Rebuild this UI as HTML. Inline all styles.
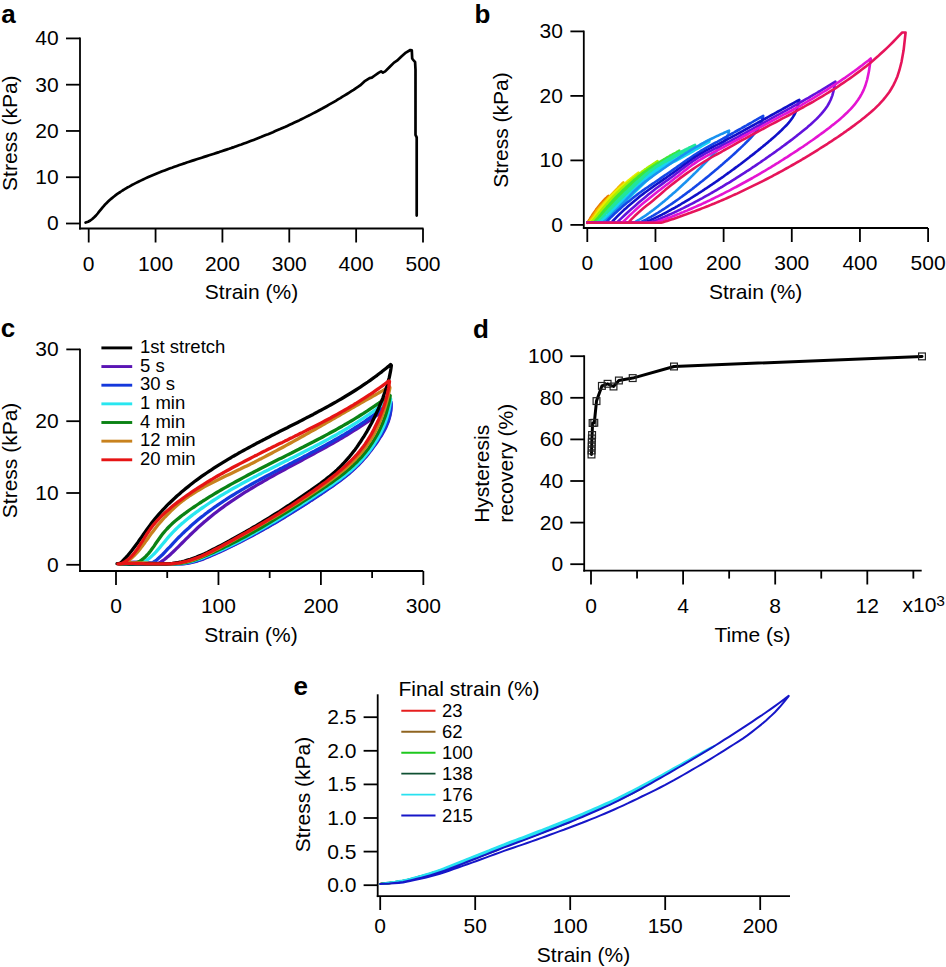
<!DOCTYPE html>
<html><head><meta charset="utf-8"><style>
html,body{margin:0;padding:0;background:#fff;}
svg{display:block;}
text{font-family:"Liberation Sans", sans-serif;}
</style></head><body>
<svg width="946" height="967" viewBox="0 0 946 967">
<rect width="946" height="967" fill="#fff"/>
<line x1="80" y1="37.4" x2="80" y2="229.4" stroke="#000" stroke-width="1.8"/>
<line x1="79.1" y1="228.5" x2="423.5" y2="228.5" stroke="#000" stroke-width="1.8"/>
<line x1="66" y1="223.5" x2="80" y2="223.5" stroke="#000" stroke-width="1.8"/>
<text x="58.6" y="230.4" font-size="21" text-anchor="end" font-weight="normal" fill="#000">0</text>
<line x1="66" y1="177.23" x2="80" y2="177.23" stroke="#000" stroke-width="1.8"/>
<text x="58.6" y="184.13" font-size="21" text-anchor="end" font-weight="normal" fill="#000">10</text>
<line x1="66" y1="130.96" x2="80" y2="130.96" stroke="#000" stroke-width="1.8"/>
<text x="58.6" y="137.86" font-size="21" text-anchor="end" font-weight="normal" fill="#000">20</text>
<line x1="66" y1="84.69" x2="80" y2="84.69" stroke="#000" stroke-width="1.8"/>
<text x="58.6" y="91.59" font-size="21" text-anchor="end" font-weight="normal" fill="#000">30</text>
<line x1="66" y1="38.42" x2="80" y2="38.42" stroke="#000" stroke-width="1.8"/>
<text x="58.6" y="45.32" font-size="21" text-anchor="end" font-weight="normal" fill="#000">40</text>
<line x1="88.7" y1="228.5" x2="88.7" y2="242.5" stroke="#000" stroke-width="1.8"/>
<text x="88.7" y="270.5" font-size="21" text-anchor="middle" font-weight="normal" fill="#000">0</text>
<line x1="155.56" y1="228.5" x2="155.56" y2="242.5" stroke="#000" stroke-width="1.8"/>
<text x="155.56" y="270.5" font-size="21" text-anchor="middle" font-weight="normal" fill="#000">100</text>
<line x1="222.42" y1="228.5" x2="222.42" y2="242.5" stroke="#000" stroke-width="1.8"/>
<text x="222.42" y="270.5" font-size="21" text-anchor="middle" font-weight="normal" fill="#000">200</text>
<line x1="289.28" y1="228.5" x2="289.28" y2="242.5" stroke="#000" stroke-width="1.8"/>
<text x="289.28" y="270.5" font-size="21" text-anchor="middle" font-weight="normal" fill="#000">300</text>
<line x1="356.14" y1="228.5" x2="356.14" y2="242.5" stroke="#000" stroke-width="1.8"/>
<text x="356.14" y="270.5" font-size="21" text-anchor="middle" font-weight="normal" fill="#000">400</text>
<line x1="423" y1="228.5" x2="423" y2="242.5" stroke="#000" stroke-width="1.8"/>
<text x="423" y="270.5" font-size="21" text-anchor="middle" font-weight="normal" fill="#000">500</text>
<text x="251.5" y="299.2" font-size="21" text-anchor="middle" font-weight="normal" fill="#000">Strain (%)</text>
<text x="17.4" y="133.2" font-size="21" text-anchor="middle" font-weight="normal" fill="#000" transform="rotate(-90 17.4 133.2)">Stress (kPa)</text>
<text x="1.3" y="22.8" font-size="26" text-anchor="start" font-weight="bold" fill="#000">a</text>
<path d="M85.6,222.5 L88.1,221.7 L90.3,220.5 L92.3,219.0 L94.2,217.3 L96.0,215.5 L97.7,213.5 L99.3,211.4 L101.0,209.3 L102.6,207.3 L104.4,205.3 L106.2,203.4 L108.1,201.6 L110.0,199.8 L112.0,198.1 L114.0,196.5 L116.0,194.9 L118.1,193.4 L120.3,192.0 L122.5,190.5 L124.7,189.2 L126.9,187.8 L129.2,186.6 L131.4,185.3 L133.7,184.1 L136.1,182.9 L138.4,181.7 L140.7,180.6 L143.1,179.5 L145.4,178.4 L147.8,177.3 L150.2,176.2 L152.6,175.2 L155.0,174.2 L157.4,173.2 L159.8,172.3 L162.2,171.3 L164.6,170.4 L167.1,169.4 L169.5,168.5 L171.9,167.7 L174.4,166.8 L176.9,165.9 L179.3,165.0 L181.8,164.2 L184.3,163.4 L186.7,162.5 L189.2,161.7 L191.7,160.9 L194.2,160.1 L196.7,159.3 L199.2,158.5 L201.7,157.7 L204.1,156.9 L206.6,156.1 L209.1,155.3 L211.6,154.5 L214.1,153.7 L216.6,152.9 L219.1,152.1 L221.6,151.2 L224.1,150.4 L226.5,149.6 L229.0,148.8 L231.5,147.9 L234.0,147.1 L236.4,146.2 L238.9,145.3 L241.4,144.5 L243.8,143.6 L246.3,142.7 L248.7,141.8 L251.2,140.8 L253.6,139.9 L256.0,139.0 L258.5,138.0 L260.9,137.1 L263.3,136.1 L265.7,135.1 L268.1,134.2 L270.5,133.2 L272.9,132.2 L275.3,131.1 L277.7,130.1 L280.1,129.1 L282.5,128.0 L284.9,127.0 L287.3,125.9 L289.6,124.8 L292.0,123.7 L294.4,122.6 L296.7,121.5 L299.1,120.4 L301.4,119.2 L303.7,118.1 L306.1,116.9 L308.4,115.8 L310.7,114.6 L313.0,113.4 L315.3,112.2 L317.6,111.0 L319.9,109.7 L322.2,108.5 L324.5,107.2 L326.8,106.0 L329.0,104.7 L331.3,103.4 L333.6,102.1 L335.8,100.8 L338.0,99.4 L340.3,98.1 L342.5,96.7 L344.7,95.4 L347.0,94.0 L349.2,92.6 L351.4,91.2 L353.6,89.8 L355.7,88.3 L357.9,86.9 L360.1,85.4 L364.4,81.4 L369.6,78.1 L371.8,77.7 L374.8,75.5 L378.5,72.9 L381.1,71.4 L382.9,72.6 L385.2,71.4 L389.6,67.0 L394.0,62.6 L397.0,60.7 L401.4,56.6 L405.9,52.6 L410.3,50.0 L411.8,50.4 L412.2,58.5 L413.3,60.0 L415.1,62.2 L415.5,69.6 L415.5,134.8 L416.7,137.3 L416.7,215.6" fill="none" stroke="#000" stroke-width="2.7" stroke-linejoin="round" stroke-linecap="round"/>
<line x1="583.8" y1="30.6" x2="583.8" y2="228.9" stroke="#000" stroke-width="1.8"/>
<line x1="582.9" y1="228" x2="928" y2="228" stroke="#000" stroke-width="1.8"/>
<line x1="570.4" y1="224.9" x2="583.8" y2="224.9" stroke="#000" stroke-width="1.8"/>
<text x="562.9" y="231.8" font-size="21" text-anchor="end" font-weight="normal" fill="#000">0</text>
<line x1="570.4" y1="160.4" x2="583.8" y2="160.4" stroke="#000" stroke-width="1.8"/>
<text x="562.9" y="167.3" font-size="21" text-anchor="end" font-weight="normal" fill="#000">10</text>
<line x1="570.4" y1="95.9" x2="583.8" y2="95.9" stroke="#000" stroke-width="1.8"/>
<text x="562.9" y="102.8" font-size="21" text-anchor="end" font-weight="normal" fill="#000">20</text>
<line x1="570.4" y1="31.4" x2="583.8" y2="31.4" stroke="#000" stroke-width="1.8"/>
<text x="562.9" y="38.3" font-size="21" text-anchor="end" font-weight="normal" fill="#000">30</text>
<line x1="587.3" y1="228" x2="587.3" y2="242" stroke="#000" stroke-width="1.8"/>
<text x="587.3" y="270.3" font-size="21" text-anchor="middle" font-weight="normal" fill="#000">0</text>
<line x1="655.46" y1="228" x2="655.46" y2="242" stroke="#000" stroke-width="1.8"/>
<text x="655.46" y="270.3" font-size="21" text-anchor="middle" font-weight="normal" fill="#000">100</text>
<line x1="723.62" y1="228" x2="723.62" y2="242" stroke="#000" stroke-width="1.8"/>
<text x="723.62" y="270.3" font-size="21" text-anchor="middle" font-weight="normal" fill="#000">200</text>
<line x1="791.78" y1="228" x2="791.78" y2="242" stroke="#000" stroke-width="1.8"/>
<text x="791.78" y="270.3" font-size="21" text-anchor="middle" font-weight="normal" fill="#000">300</text>
<line x1="859.94" y1="228" x2="859.94" y2="242" stroke="#000" stroke-width="1.8"/>
<text x="859.94" y="270.3" font-size="21" text-anchor="middle" font-weight="normal" fill="#000">400</text>
<line x1="928.1" y1="228" x2="928.1" y2="242" stroke="#000" stroke-width="1.8"/>
<text x="928.1" y="270.3" font-size="21" text-anchor="middle" font-weight="normal" fill="#000">500</text>
<text x="755.7" y="299.3" font-size="21" text-anchor="middle" font-weight="normal" fill="#000">Strain (%)</text>
<text x="507.9" y="130" font-size="21" text-anchor="middle" font-weight="normal" fill="#000" transform="rotate(-90 507.9 130)">Stress (kPa)</text>
<text x="474.6" y="22.9" font-size="26" text-anchor="start" font-weight="bold" fill="#000">b</text>
<path d="M587.3,222.8 L587.3,222.8 L587.5,222.5 L587.8,222.1 L588.0,221.8 L588.2,221.4 L588.5,221.0 L588.7,220.7 L589.0,220.3 L589.2,220.0 L589.4,219.6 L589.7,219.2 L589.9,218.9 L590.1,218.5 L590.4,218.1 L590.6,217.8 L590.9,217.4 L591.1,217.0 L591.3,216.6 L591.6,216.3 L591.8,215.9 L592.0,215.5 L592.3,215.1 L592.5,214.8 L592.8,214.4 L593.0,214.0 L593.2,213.6 L593.5,213.3 L593.7,212.9 L593.9,212.6 L594.2,212.2 L594.4,211.8 L594.7,211.5 L594.9,211.2 L595.1,210.8 L595.4,210.5 L595.6,210.2 L595.8,209.8 L596.1,209.5 L596.3,209.2 L596.6,208.9 L596.8,208.6 L597.0,208.3 L597.3,208.0 L597.5,207.7 L597.7,207.4 L598.0,207.1 L598.2,206.8 L598.5,206.5 L598.7,206.2 L598.9,205.9 L599.2,205.6 L599.4,205.3 L599.6,205.0 L599.9,204.8 L600.1,204.5 L600.4,204.2 L600.6,203.9 L600.8,203.6 L601.1,203.4 L601.3,203.1 L601.5,202.8 L601.8,202.5 L602.0,202.3 L602.3,202.0 L602.5,201.7 L602.7,201.5 L603.0,201.2 L603.2,200.9 L603.4,200.7 L603.7,200.4 L603.9,200.2 L604.2,199.9 L604.4,199.7 L604.6,199.4 L604.9,199.2 L605.1,199.0 L605.3,198.7 L605.6,198.5 L605.8,198.2 L606.1,198.0 L606.3,197.8 L606.5,197.6 L606.8,197.3 L607.0,197.1 L607.2,196.9 L607.5,196.7 L607.7,196.5 L608.0,196.3 L608.2,196.1 L608.4,195.9 L608.4,199.0 L608.1,199.3 L607.8,199.7 L607.5,200.0 L607.2,200.3 L606.9,200.6 L606.6,200.9 L606.3,201.3 L606.0,201.6 L605.7,201.9 L605.4,202.3 L605.1,202.6 L604.8,202.9 L604.5,203.3 L604.2,203.6 L603.9,204.0 L603.6,204.4 L603.3,204.7 L603.0,205.1 L602.7,205.4 L602.4,205.8 L602.1,206.2 L601.8,206.6 L601.5,206.9 L601.2,207.3 L600.9,207.7 L600.6,208.1 L600.3,208.5 L600.0,208.8 L599.7,209.2 L599.4,209.6 L599.1,210.0 L598.8,210.4 L598.5,210.8 L598.2,211.3 L597.9,211.7 L597.6,212.2 L597.3,212.6 L597.0,213.1 L596.7,213.5 L596.4,214.0 L596.1,214.5 L595.8,214.9 L595.5,215.4 L595.2,215.9 L594.9,216.4 L594.6,216.8 L594.3,217.3 L594.0,217.8 L593.7,218.3 L593.4,218.7 L593.1,219.2 L592.8,219.7 L592.5,220.1 L592.2,220.6 L591.9,221.0 L591.6,221.5 L591.3,221.9 L591.0,222.4 L590.7,222.8 L587.3,222.8" fill="none" stroke="#e87a00" stroke-width="2.6" stroke-linejoin="round" stroke-linecap="round"/>
<path d="M587.3,222.8 L588.0,222.8 L588.4,222.4 L588.8,221.9 L589.2,221.4 L589.6,220.9 L590.0,220.4 L590.4,219.9 L590.8,219.3 L591.2,218.8 L591.6,218.3 L592.0,217.7 L592.4,217.1 L592.8,216.6 L593.2,216.0 L593.6,215.4 L594.0,214.8 L594.4,214.3 L594.8,213.7 L595.1,213.1 L595.5,212.5 L595.9,212.0 L596.3,211.4 L596.7,210.9 L597.1,210.3 L597.5,209.8 L597.9,209.3 L598.3,208.8 L598.7,208.4 L599.1,207.9 L599.5,207.4 L599.9,207.0 L600.3,206.5 L600.7,206.0 L601.1,205.6 L601.5,205.2 L601.9,204.7 L602.3,204.3 L602.7,203.8 L603.1,203.4 L603.5,203.0 L603.9,202.6 L604.3,202.2 L604.7,201.7 L605.1,201.3 L605.5,200.9 L605.9,200.5 L606.3,200.1 L606.7,199.6 L607.1,199.2 L607.5,198.8 L607.9,198.4 L608.3,198.0 L608.7,197.5 L609.1,197.1 L609.5,196.7 L609.9,196.3 L610.3,195.8 L610.7,195.4 L611.1,195.0 L611.5,194.6 L611.9,194.2 L612.3,193.7 L612.7,193.3 L613.1,192.9 L613.5,192.5 L613.9,192.1 L614.3,191.7 L614.7,191.2 L615.1,190.8 L615.5,190.4 L615.9,190.0 L616.3,189.6 L616.7,189.2 L617.1,188.8 L617.5,188.4 L617.8,188.0 L618.2,187.5 L618.6,187.1 L619.0,186.7 L619.4,186.3 L619.8,185.9 L620.2,185.5 L620.6,185.1 L621.0,184.7 L621.4,184.3 L621.8,183.9 L622.2,183.5 L622.6,183.1 L623.0,182.7 L623.4,182.3 L623.4,185.7 L622.9,186.3 L622.3,186.9 L621.8,187.4 L621.3,188.0 L620.7,188.5 L620.2,189.1 L619.6,189.6 L619.1,190.2 L618.5,190.8 L618.0,191.3 L617.5,191.9 L616.9,192.5 L616.4,193.0 L615.8,193.6 L615.3,194.2 L614.7,194.7 L614.2,195.3 L613.7,195.9 L613.1,196.5 L612.6,197.0 L612.0,197.6 L611.5,198.2 L610.9,198.8 L610.4,199.3 L609.9,199.9 L609.3,200.5 L608.8,201.0 L608.2,201.6 L607.7,202.2 L607.1,202.8 L606.6,203.3 L606.0,203.9 L605.5,204.5 L605.0,205.1 L604.4,205.7 L603.9,206.3 L603.3,207.0 L602.8,207.6 L602.2,208.2 L601.7,208.9 L601.2,209.6 L600.6,210.3 L600.1,211.0 L599.5,211.7 L599.0,212.5 L598.4,213.3 L597.9,214.0 L597.4,214.8 L596.8,215.6 L596.3,216.4 L595.7,217.2 L595.2,218.0 L594.6,218.7 L594.1,219.4 L593.6,220.1 L593.0,220.8 L592.5,221.5 L591.9,222.2 L591.4,222.8 L587.3,222.8" fill="none" stroke="#f4b400" stroke-width="2.6" stroke-linejoin="round" stroke-linecap="round"/>
<path d="M587.3,222.8 L589.0,222.8 L589.6,222.3 L590.1,221.8 L590.7,221.2 L591.2,220.7 L591.8,220.1 L592.3,219.4 L592.9,218.8 L593.4,218.0 L594.0,217.3 L594.6,216.5 L595.1,215.7 L595.7,214.9 L596.2,214.1 L596.8,213.3 L597.3,212.5 L597.9,211.7 L598.4,210.9 L599.0,210.2 L599.6,209.4 L600.1,208.7 L600.7,208.0 L601.2,207.3 L601.8,206.6 L602.3,206.0 L602.9,205.3 L603.4,204.6 L604.0,203.9 L604.6,203.2 L605.1,202.6 L605.7,201.9 L606.2,201.3 L606.8,200.6 L607.3,200.0 L607.9,199.4 L608.4,198.8 L609.0,198.2 L609.5,197.6 L610.1,197.0 L610.7,196.4 L611.2,195.8 L611.8,195.3 L612.3,194.7 L612.9,194.2 L613.4,193.6 L614.0,193.1 L614.5,192.6 L615.1,192.0 L615.7,191.5 L616.2,191.0 L616.8,190.5 L617.3,190.0 L617.9,189.5 L618.4,189.1 L619.0,188.6 L619.5,188.1 L620.1,187.6 L620.7,187.1 L621.2,186.7 L621.8,186.2 L622.3,185.7 L622.9,185.2 L623.4,184.8 L624.0,184.3 L624.5,183.8 L625.1,183.4 L625.6,182.9 L626.2,182.4 L626.8,182.0 L627.3,181.5 L627.9,181.0 L628.4,180.6 L629.0,180.1 L629.5,179.7 L630.1,179.2 L630.6,178.8 L631.2,178.3 L631.8,177.9 L632.3,177.4 L632.9,177.0 L633.4,176.5 L634.0,176.1 L634.5,175.7 L635.1,175.2 L635.6,174.8 L636.2,174.4 L636.8,173.9 L637.3,173.5 L637.9,173.1 L638.4,172.7 L638.4,175.3 L637.6,175.9 L636.9,176.5 L636.1,177.1 L635.3,177.7 L634.5,178.4 L633.7,179.0 L633.0,179.6 L632.2,180.3 L631.4,180.9 L630.6,181.6 L629.8,182.2 L629.1,182.9 L628.3,183.5 L627.5,184.2 L626.7,184.9 L625.9,185.5 L625.2,186.2 L624.4,186.9 L623.6,187.5 L622.8,188.2 L622.0,188.9 L621.3,189.6 L620.5,190.3 L619.7,191.0 L618.9,191.7 L618.1,192.4 L617.4,193.1 L616.6,193.9 L615.8,194.6 L615.0,195.4 L614.2,196.2 L613.5,197.0 L612.7,197.8 L611.9,198.7 L611.1,199.6 L610.3,200.4 L609.6,201.3 L608.8,202.3 L608.0,203.2 L607.2,204.1 L606.4,205.1 L605.7,206.0 L604.9,207.0 L604.1,208.0 L603.3,209.0 L602.5,210.0 L601.8,211.0 L601.0,212.1 L600.2,213.3 L599.4,214.4 L598.7,215.5 L597.9,216.7 L597.1,217.7 L596.3,218.7 L595.5,219.7 L594.8,220.5 L594.0,221.4 L593.2,222.1 L592.4,222.8 L587.3,222.8" fill="none" stroke="#ecec00" stroke-width="2.6" stroke-linejoin="round" stroke-linecap="round"/>
<path d="M587.3,222.8 L590.7,222.8 L591.5,222.0 L592.2,221.2 L593.0,220.4 L593.7,219.6 L594.5,218.7 L595.2,217.8 L596.0,216.9 L596.7,216.0 L597.5,215.0 L598.2,214.1 L599.0,213.2 L599.7,212.2 L600.5,211.3 L601.2,210.4 L602.0,209.5 L602.7,208.6 L603.5,207.7 L604.2,206.8 L605.0,205.9 L605.7,205.1 L606.5,204.2 L607.2,203.3 L608.0,202.4 L608.7,201.6 L609.5,200.7 L610.2,199.9 L611.0,199.0 L611.7,198.2 L612.5,197.4 L613.2,196.6 L614.0,195.8 L614.7,195.1 L615.5,194.3 L616.2,193.6 L617.0,192.9 L617.7,192.1 L618.5,191.4 L619.2,190.7 L620.0,190.0 L620.7,189.3 L621.5,188.6 L622.2,187.9 L623.0,187.3 L623.7,186.6 L624.5,185.9 L625.2,185.3 L626.0,184.6 L626.7,184.0 L627.5,183.3 L628.2,182.7 L629.0,182.1 L629.7,181.4 L630.5,180.8 L631.2,180.2 L632.0,179.6 L632.7,179.0 L633.5,178.4 L634.2,177.8 L635.0,177.2 L635.7,176.6 L636.5,176.0 L637.2,175.4 L638.0,174.8 L638.7,174.3 L639.5,173.7 L640.2,173.1 L641.0,172.5 L641.7,172.0 L642.5,171.4 L643.2,170.9 L644.0,170.3 L644.7,169.7 L645.5,169.2 L646.2,168.7 L647.0,168.1 L647.7,167.6 L648.5,167.1 L649.2,166.5 L650.0,166.0 L650.8,165.5 L651.5,165.0 L652.3,164.5 L653.0,164.0 L653.8,163.5 L654.5,163.0 L655.3,162.5 L656.0,162.0 L656.8,161.5 L657.5,161.0 L657.5,163.2 L656.4,164.0 L655.4,164.7 L654.3,165.4 L653.2,166.1 L652.1,166.9 L651.1,167.7 L650.0,168.4 L648.9,169.2 L647.8,170.0 L646.8,170.8 L645.7,171.6 L644.6,172.4 L643.5,173.2 L642.5,174.0 L641.4,174.8 L640.3,175.7 L639.2,176.5 L638.2,177.4 L637.1,178.2 L636.0,179.1 L634.9,180.0 L633.9,180.8 L632.8,181.7 L631.7,182.6 L630.6,183.5 L629.6,184.5 L628.5,185.4 L627.4,186.3 L626.3,187.3 L625.3,188.3 L624.2,189.3 L623.1,190.2 L622.1,191.3 L621.0,192.3 L619.9,193.3 L618.8,194.4 L617.8,195.5 L616.7,196.6 L615.6,197.7 L614.5,198.9 L613.5,200.1 L612.4,201.3 L611.3,202.5 L610.2,203.8 L609.2,205.0 L608.1,206.3 L607.0,207.6 L605.9,208.8 L604.9,210.1 L603.8,211.4 L602.7,212.7 L601.6,214.1 L600.6,215.4 L599.5,216.8 L598.4,218.1 L597.3,219.3 L596.3,220.5 L595.2,221.7 L594.1,222.8 L587.3,222.8" fill="none" stroke="#a6f000" stroke-width="2.6" stroke-linejoin="round" stroke-linecap="round"/>
<path d="M587.3,222.8 L593.4,222.8 L594.4,221.8 L595.4,220.7 L596.3,219.7 L597.3,218.6 L598.3,217.5 L599.2,216.3 L600.2,215.2 L601.2,214.0 L602.1,212.8 L603.1,211.7 L604.0,210.5 L605.0,209.4 L606.0,208.3 L606.9,207.2 L607.9,206.1 L608.9,205.1 L609.8,204.0 L610.8,202.9 L611.8,201.8 L612.7,200.8 L613.7,199.7 L614.7,198.7 L615.6,197.7 L616.6,196.7 L617.6,195.7 L618.5,194.7 L619.5,193.8 L620.5,192.8 L621.4,191.9 L622.4,190.9 L623.3,190.0 L624.3,189.1 L625.3,188.2 L626.2,187.3 L627.2,186.4 L628.2,185.5 L629.1,184.6 L630.1,183.7 L631.1,182.9 L632.0,182.0 L633.0,181.2 L634.0,180.3 L634.9,179.5 L635.9,178.7 L636.9,177.9 L637.8,177.1 L638.8,176.3 L639.8,175.5 L640.7,174.8 L641.7,174.1 L642.6,173.3 L643.6,172.6 L644.6,171.9 L645.5,171.2 L646.5,170.5 L647.5,169.9 L648.4,169.2 L649.4,168.5 L650.4,167.9 L651.3,167.3 L652.3,166.6 L653.3,166.0 L654.2,165.4 L655.2,164.8 L656.2,164.2 L657.1,163.6 L658.1,163.0 L659.1,162.4 L660.0,161.8 L661.0,161.2 L661.9,160.6 L662.9,160.0 L663.9,159.4 L664.8,158.9 L665.8,158.3 L666.8,157.7 L667.7,157.1 L668.7,156.6 L669.7,156.0 L670.6,155.5 L671.6,154.9 L672.6,154.4 L673.5,153.8 L674.5,153.3 L675.5,152.8 L676.4,152.3 L677.4,151.7 L678.4,151.2 L679.3,150.7 L679.3,152.5 L677.9,153.3 L676.5,154.1 L675.1,154.9 L673.7,155.7 L672.3,156.5 L670.9,157.3 L669.5,158.1 L668.1,158.9 L666.7,159.8 L665.3,160.6 L663.9,161.5 L662.5,162.3 L661.1,163.2 L659.7,164.1 L658.3,164.9 L657.0,165.8 L655.6,166.7 L654.2,167.7 L652.8,168.6 L651.4,169.5 L650.0,170.5 L648.6,171.5 L647.2,172.5 L645.8,173.5 L644.4,174.6 L643.0,175.7 L641.6,176.8 L640.2,178.0 L638.8,179.1 L637.4,180.3 L636.0,181.5 L634.6,182.8 L633.2,184.0 L631.8,185.3 L630.4,186.6 L629.0,187.9 L627.6,189.2 L626.2,190.5 L624.8,191.9 L623.4,193.3 L622.0,194.6 L620.6,196.0 L619.2,197.5 L617.8,199.0 L616.4,200.5 L615.0,202.0 L613.6,203.6 L612.2,205.1 L610.8,206.7 L609.4,208.3 L608.0,209.9 L606.6,211.5 L605.2,213.2 L603.8,214.9 L602.4,216.6 L601.0,218.2 L599.6,219.8 L598.2,221.3 L596.8,222.8 L587.3,222.8" fill="none" stroke="#3ce63c" stroke-width="2.6" stroke-linejoin="round" stroke-linecap="round"/>
<path d="M587.3,222.8 L596.2,222.8 L597.3,221.9 L598.4,220.9 L599.5,219.8 L600.6,218.7 L601.7,217.6 L602.8,216.4 L603.9,215.2 L605.0,213.9 L606.2,212.7 L607.3,211.4 L608.4,210.2 L609.5,209.0 L610.6,207.8 L611.7,206.6 L612.8,205.5 L613.9,204.3 L615.0,203.1 L616.1,201.9 L617.3,200.8 L618.4,199.6 L619.5,198.5 L620.6,197.4 L621.7,196.2 L622.8,195.2 L623.9,194.1 L625.0,193.0 L626.1,191.9 L627.3,190.9 L628.4,189.8 L629.5,188.7 L630.6,187.7 L631.7,186.6 L632.8,185.6 L633.9,184.5 L635.0,183.5 L636.1,182.5 L637.2,181.5 L638.4,180.5 L639.5,179.5 L640.6,178.6 L641.7,177.6 L642.8,176.7 L643.9,175.7 L645.0,174.8 L646.1,173.9 L647.2,173.1 L648.4,172.2 L649.5,171.4 L650.6,170.6 L651.7,169.8 L652.8,169.0 L653.9,168.2 L655.0,167.4 L656.1,166.7 L657.2,165.9 L658.3,165.2 L659.5,164.5 L660.6,163.7 L661.7,163.0 L662.8,162.3 L663.9,161.6 L665.0,161.0 L666.1,160.3 L667.2,159.6 L668.3,159.0 L669.5,158.3 L670.6,157.7 L671.7,157.0 L672.8,156.4 L673.9,155.7 L675.0,155.1 L676.1,154.5 L677.2,153.9 L678.3,153.3 L679.4,152.7 L680.6,152.1 L681.7,151.5 L682.8,150.9 L683.9,150.3 L685.0,149.7 L686.1,149.2 L687.2,148.6 L688.3,148.1 L689.4,147.5 L690.6,147.0 L691.7,146.5 L692.8,145.9 L693.9,145.4 L695.0,144.9 L695.0,146.5 L693.4,147.3 L691.8,148.1 L690.1,148.9 L688.5,149.7 L686.9,150.5 L685.3,151.4 L683.7,152.2 L682.1,153.1 L680.4,154.0 L678.8,154.9 L677.2,155.8 L675.6,156.7 L674.0,157.7 L672.3,158.6 L670.7,159.6 L669.1,160.5 L667.5,161.5 L665.9,162.5 L664.3,163.6 L662.6,164.6 L661.0,165.7 L659.4,166.8 L657.8,167.9 L656.2,169.0 L654.6,170.2 L652.9,171.3 L651.3,172.6 L649.7,173.8 L648.1,175.1 L646.5,176.4 L644.9,177.8 L643.2,179.2 L641.6,180.6 L640.0,182.1 L638.4,183.6 L636.8,185.1 L635.2,186.6 L633.5,188.1 L631.9,189.7 L630.3,191.2 L628.7,192.8 L627.1,194.3 L625.4,195.9 L623.8,197.5 L622.2,199.2 L620.6,200.8 L619.0,202.5 L617.4,204.2 L615.7,206.0 L614.1,207.7 L612.5,209.4 L610.9,211.2 L609.3,213.0 L607.7,214.8 L606.0,216.6 L604.4,218.3 L602.8,219.9 L601.2,221.4 L599.6,222.8 L587.3,222.8" fill="none" stroke="#22e69a" stroke-width="2.6" stroke-linejoin="round" stroke-linecap="round"/>
<path d="M587.3,222.8 L599.2,222.8 L600.5,221.8 L601.7,220.8 L602.9,219.7 L604.2,218.6 L605.4,217.5 L606.6,216.3 L607.9,215.1 L609.1,213.9 L610.4,212.6 L611.6,211.4 L612.8,210.2 L614.1,209.0 L615.3,207.8 L616.5,206.6 L617.8,205.3 L619.0,204.1 L620.3,202.9 L621.5,201.7 L622.7,200.5 L624.0,199.3 L625.2,198.1 L626.4,196.9 L627.7,195.7 L628.9,194.6 L630.1,193.4 L631.4,192.2 L632.6,191.0 L633.9,189.8 L635.1,188.6 L636.3,187.4 L637.6,186.2 L638.8,185.0 L640.0,183.8 L641.3,182.7 L642.5,181.5 L643.8,180.4 L645.0,179.2 L646.2,178.1 L647.5,177.0 L648.7,176.0 L649.9,174.9 L651.2,173.9 L652.4,173.0 L653.6,172.0 L654.9,171.1 L656.1,170.3 L657.4,169.4 L658.6,168.6 L659.8,167.8 L661.1,167.1 L662.3,166.3 L663.5,165.6 L664.8,164.9 L666.0,164.2 L667.3,163.6 L668.5,162.9 L669.7,162.2 L671.0,161.6 L672.2,160.9 L673.4,160.3 L674.7,159.6 L675.9,159.0 L677.1,158.3 L678.4,157.7 L679.6,157.0 L680.9,156.3 L682.1,155.6 L683.3,154.9 L684.6,154.2 L685.8,153.5 L687.0,152.8 L688.3,152.0 L689.5,151.3 L690.8,150.6 L692.0,149.9 L693.2,149.2 L694.5,148.5 L695.7,147.7 L696.9,147.0 L698.2,146.3 L699.4,145.6 L700.6,144.8 L701.9,144.1 L703.1,143.4 L704.4,142.7 L705.6,141.9 L706.8,141.2 L708.1,140.5 L709.3,139.8 L709.3,141.8 L707.5,142.8 L705.7,143.9 L703.9,144.9 L702.1,146.0 L700.3,147.1 L698.5,148.1 L696.7,149.2 L694.8,150.2 L693.0,151.3 L691.2,152.3 L689.4,153.3 L687.6,154.4 L685.8,155.4 L684.0,156.4 L682.2,157.4 L680.4,158.4 L678.6,159.4 L676.8,160.3 L675.0,161.3 L673.1,162.2 L671.3,163.2 L669.5,164.2 L667.7,165.2 L665.9,166.2 L664.1,167.3 L662.3,168.4 L660.5,169.6 L658.7,170.8 L656.9,172.2 L655.1,173.5 L653.3,175.0 L651.5,176.5 L649.6,178.1 L647.8,179.7 L646.0,181.4 L644.2,183.1 L642.4,184.8 L640.6,186.6 L638.8,188.3 L637.0,190.1 L635.2,191.8 L633.4,193.6 L631.6,195.3 L629.8,197.0 L627.9,198.7 L626.1,200.5 L624.3,202.2 L622.5,204.0 L620.7,205.8 L618.9,207.6 L617.1,209.3 L615.3,211.1 L613.5,212.9 L611.7,214.7 L609.9,216.5 L608.1,218.2 L606.3,219.8 L604.4,221.4 L602.6,222.8 L587.3,222.8" fill="none" stroke="#18d4f2" stroke-width="2.6" stroke-linejoin="round" stroke-linecap="round"/>
<path d="M587.3,222.8 L602.3,222.8 L603.7,221.8 L605.1,220.7 L606.6,219.5 L608.0,218.3 L609.4,217.0 L610.8,215.6 L612.3,214.1 L613.7,212.7 L615.1,211.2 L616.5,209.8 L618.0,208.3 L619.4,206.9 L620.8,205.4 L622.2,203.9 L623.7,202.4 L625.1,200.9 L626.5,199.3 L627.9,197.8 L629.4,196.3 L630.8,194.8 L632.2,193.4 L633.6,191.9 L635.1,190.5 L636.5,189.2 L637.9,187.9 L639.3,186.6 L640.8,185.4 L642.2,184.2 L643.6,183.0 L645.0,181.9 L646.5,180.8 L647.9,179.7 L649.3,178.6 L650.7,177.6 L652.2,176.6 L653.6,175.5 L655.0,174.5 L656.4,173.5 L657.8,172.5 L659.3,171.5 L660.7,170.5 L662.1,169.5 L663.5,168.5 L665.0,167.5 L666.4,166.5 L667.8,165.5 L669.2,164.5 L670.7,163.5 L672.1,162.5 L673.5,161.5 L674.9,160.5 L676.4,159.6 L677.8,158.6 L679.2,157.6 L680.6,156.7 L682.1,155.7 L683.5,154.8 L684.9,153.8 L686.3,152.9 L687.8,152.0 L689.2,151.1 L690.6,150.2 L692.0,149.4 L693.5,148.5 L694.9,147.7 L696.3,146.9 L697.7,146.1 L699.2,145.3 L700.6,144.5 L702.0,143.7 L703.4,143.0 L704.9,142.2 L706.3,141.4 L707.7,140.7 L709.1,140.0 L710.6,139.2 L712.0,138.5 L713.4,137.8 L714.8,137.1 L716.3,136.4 L717.7,135.8 L719.1,135.1 L720.5,134.4 L722.0,133.8 L723.4,133.2 L724.8,132.5 L726.2,131.9 L727.6,131.3 L729.1,130.7 L729.1,130.7 L728.3,133.6 L727.5,135.7 L726.6,137.4 L725.8,138.8 L725.0,140.1 L724.2,141.3 L723.4,142.4 L722.6,143.5 L721.8,144.5 L721.0,145.5 L720.2,146.5 L719.4,147.5 L718.6,148.4 L717.8,149.3 L717.0,150.2 L716.2,151.2 L715.3,152.0 L714.5,152.9 L713.7,153.8 L712.9,154.7 L712.1,155.6 L711.3,156.4 L710.5,157.3 L709.7,158.1 L708.9,159.0 L708.1,159.8 L707.3,160.7 L706.5,161.5 L705.7,162.4 L704.8,163.2 L704.0,164.0 L703.2,164.8 L702.4,165.7 L701.6,166.5 L700.8,167.3 L700.0,168.1 L699.2,168.9 L698.4,169.7 L697.6,170.5 L696.8,171.3 L696.0,172.1 L695.2,172.9 L694.3,173.7 L693.5,174.5 L692.7,175.3 L691.9,176.1 L691.1,176.9 L690.3,177.7 L689.5,178.4 L688.7,179.2 L687.9,180.0 L687.1,180.7 L686.3,181.5 L685.5,182.3 L684.7,183.0 L683.8,183.8 L683.0,184.5 L682.2,185.3 L681.4,186.0 L680.6,186.8 L679.8,187.5 L679.0,188.2 L678.2,189.0 L677.4,189.7 L676.6,190.4 L675.8,191.2 L675.0,191.9 L674.2,192.6 L673.3,193.3 L672.5,194.0 L671.7,194.7 L670.9,195.4 L670.1,196.1 L669.3,196.8 L668.5,197.5 L667.7,198.2 L666.9,198.9 L666.1,199.6 L665.3,200.3 L664.5,201.0 L663.7,201.6 L662.8,202.3 L662.0,203.0 L661.2,203.6 L660.4,204.3 L659.6,204.9 L658.8,205.6 L658.0,206.2 L657.2,206.9 L656.4,207.5 L655.6,208.1 L654.8,208.7 L654.0,209.4 L653.2,210.0 L652.3,210.6 L651.5,211.2 L650.7,211.8 L649.9,212.4 L649.1,213.0 L648.3,213.5 L647.5,214.1 L646.7,214.7 L645.9,215.3 L645.1,215.8 L644.3,216.4 L643.5,216.9 L642.7,217.4 L641.9,218.0 L641.0,218.5 L640.2,219.0 L639.4,219.5 L638.6,220.0 L637.8,220.4 L637.0,220.9 L636.2,221.3 L635.4,221.8 L634.6,222.2 L633.8,222.5 L633.0,222.8 L587.3,222.8" fill="none" stroke="#1a92f0" stroke-width="2.6" stroke-linejoin="round" stroke-linecap="round"/>
<path d="M587.3,222.8 L605.7,222.8 L607.5,220.8 L609.2,219.0 L611.0,217.2 L612.8,215.5 L614.5,213.8 L616.3,212.2 L618.1,210.5 L619.9,209.0 L621.6,207.4 L623.4,205.8 L625.2,204.3 L626.9,202.8 L628.7,201.4 L630.5,199.9 L632.2,198.5 L634.0,197.1 L635.8,195.7 L637.5,194.4 L639.3,193.0 L641.1,191.7 L642.9,190.4 L644.6,189.2 L646.4,188.0 L648.2,186.8 L649.9,185.6 L651.7,184.4 L653.5,183.2 L655.2,182.0 L657.0,180.8 L658.8,179.6 L660.5,178.4 L662.3,177.1 L664.1,175.9 L665.9,174.7 L667.6,173.5 L669.4,172.3 L671.2,171.1 L672.9,169.8 L674.7,168.6 L676.5,167.4 L678.2,166.1 L680.0,164.9 L681.8,163.6 L683.5,162.4 L685.3,161.1 L687.1,159.9 L688.9,158.7 L690.6,157.5 L692.4,156.3 L694.2,155.1 L695.9,154.0 L697.7,152.9 L699.5,151.8 L701.2,150.7 L703.0,149.7 L704.8,148.6 L706.5,147.6 L708.3,146.6 L710.1,145.6 L711.8,144.7 L713.6,143.7 L715.4,142.7 L717.2,141.8 L718.9,140.8 L720.7,139.9 L722.5,138.9 L724.2,137.9 L726.0,137.0 L727.8,136.0 L729.5,135.0 L731.3,134.0 L733.1,133.0 L734.8,132.0 L736.6,131.0 L738.4,130.0 L740.2,129.0 L741.9,128.0 L743.7,127.0 L745.5,126.0 L747.2,125.0 L749.0,124.0 L750.8,123.0 L752.5,122.0 L754.3,120.9 L756.1,119.9 L757.8,118.9 L759.6,117.9 L761.4,116.9 L763.2,115.9 L763.2,115.9 L762.1,120.1 L761.1,123.1 L760.0,125.4 L759.0,127.3 L757.9,129.0 L756.9,130.5 L755.8,131.9 L754.8,133.2 L753.7,134.5 L752.7,135.7 L751.6,136.8 L750.6,138.0 L749.5,139.1 L748.5,140.2 L747.4,141.2 L746.4,142.3 L745.3,143.3 L744.3,144.4 L743.2,145.4 L742.2,146.4 L741.1,147.4 L740.1,148.4 L739.0,149.3 L738.0,150.3 L736.9,151.3 L735.9,152.3 L734.9,153.2 L733.8,154.2 L732.8,155.1 L731.7,156.1 L730.7,157.0 L729.6,157.9 L728.6,158.9 L727.5,159.8 L726.5,160.7 L725.4,161.6 L724.4,162.6 L723.3,163.5 L722.3,164.4 L721.2,165.3 L720.2,166.2 L719.1,167.1 L718.1,168.0 L717.0,168.9 L716.0,169.8 L714.9,170.6 L713.9,171.5 L712.8,172.4 L711.8,173.3 L710.7,174.1 L709.7,175.0 L708.6,175.9 L707.6,176.7 L706.6,177.6 L705.5,178.4 L704.5,179.3 L703.4,180.1 L702.4,181.0 L701.3,181.8 L700.3,182.6 L699.2,183.5 L698.2,184.3 L697.1,185.1 L696.1,185.9 L695.0,186.8 L694.0,187.6 L692.9,188.4 L691.9,189.2 L690.8,190.0 L689.8,190.8 L688.7,191.6 L687.7,192.3 L686.6,193.1 L685.6,193.9 L684.5,194.7 L683.5,195.4 L682.4,196.2 L681.4,197.0 L680.3,197.7 L679.3,198.5 L678.3,199.2 L677.2,200.0 L676.2,200.7 L675.1,201.4 L674.1,202.2 L673.0,202.9 L672.0,203.6 L670.9,204.3 L669.9,205.0 L668.8,205.7 L667.8,206.4 L666.7,207.1 L665.7,207.8 L664.6,208.5 L663.6,209.2 L662.5,209.8 L661.5,210.5 L660.4,211.2 L659.4,211.8 L658.3,212.5 L657.3,213.1 L656.2,213.7 L655.2,214.4 L654.1,215.0 L653.1,215.6 L652.0,216.2 L651.0,216.8 L649.9,217.4 L648.9,217.9 L647.9,218.5 L646.8,219.1 L645.8,219.6 L644.7,220.1 L643.7,220.6 L642.6,221.1 L641.6,221.6 L640.5,222.1 L639.5,222.5 L638.4,222.8 L587.3,222.8" fill="none" stroke="#1446e6" stroke-width="2.6" stroke-linejoin="round" stroke-linecap="round"/>
<path d="M587.3,222.8 L611.2,222.8 L613.3,220.5 L615.4,218.3 L617.5,216.2 L619.6,214.1 L621.7,212.1 L623.8,210.1 L626.0,208.2 L628.1,206.3 L630.2,204.5 L632.3,202.7 L634.4,200.9 L636.5,199.2 L638.6,197.4 L640.7,195.8 L642.9,194.1 L645.0,192.5 L647.1,191.0 L649.2,189.5 L651.3,188.0 L653.4,186.5 L655.5,185.0 L657.7,183.5 L659.8,182.1 L661.9,180.6 L664.0,179.2 L666.1,177.8 L668.2,176.3 L670.3,174.8 L672.5,173.3 L674.6,171.8 L676.7,170.3 L678.8,168.7 L680.9,167.2 L683.0,165.6 L685.1,164.1 L687.3,162.6 L689.4,161.0 L691.5,159.6 L693.6,158.1 L695.7,156.7 L697.8,155.4 L699.9,154.1 L702.0,152.8 L704.2,151.6 L706.3,150.4 L708.4,149.3 L710.5,148.2 L712.6,147.0 L714.7,145.9 L716.8,144.9 L719.0,143.8 L721.1,142.7 L723.2,141.6 L725.3,140.5 L727.4,139.4 L729.5,138.2 L731.6,137.1 L733.8,135.9 L735.9,134.8 L738.0,133.6 L740.1,132.5 L742.2,131.3 L744.3,130.1 L746.4,129.0 L748.5,127.8 L750.7,126.6 L752.8,125.5 L754.9,124.3 L757.0,123.2 L759.1,122.0 L761.2,120.8 L763.3,119.7 L765.5,118.5 L767.6,117.3 L769.7,116.2 L771.8,115.0 L773.9,113.8 L776.0,112.7 L778.1,111.5 L780.3,110.3 L782.4,109.2 L784.5,108.0 L786.6,106.8 L788.7,105.6 L790.8,104.5 L792.9,103.3 L795.1,102.1 L797.2,100.9 L799.3,99.8 L799.3,99.8 L798.0,105.6 L796.7,109.7 L795.3,112.8 L794.0,115.3 L792.7,117.4 L791.4,119.2 L790.1,121.0 L788.8,122.6 L787.5,124.1 L786.2,125.5 L784.8,126.9 L783.5,128.2 L782.2,129.5 L780.9,130.8 L779.6,132.0 L778.3,133.2 L777.0,134.4 L775.7,135.6 L774.4,136.8 L773.0,137.9 L771.7,139.0 L770.4,140.2 L769.1,141.3 L767.8,142.4 L766.5,143.5 L765.2,144.6 L763.9,145.6 L762.6,146.7 L761.2,147.8 L759.9,148.9 L758.6,149.9 L757.3,151.0 L756.0,152.0 L754.7,153.1 L753.4,154.1 L752.1,155.1 L750.7,156.1 L749.4,157.2 L748.1,158.2 L746.8,159.2 L745.5,160.2 L744.2,161.2 L742.9,162.2 L741.6,163.2 L740.3,164.2 L738.9,165.2 L737.6,166.2 L736.3,167.1 L735.0,168.1 L733.7,169.1 L732.4,170.0 L731.1,171.0 L729.8,172.0 L728.4,172.9 L727.1,173.9 L725.8,174.8 L724.5,175.7 L723.2,176.7 L721.9,177.6 L720.6,178.5 L719.3,179.4 L718.0,180.4 L716.6,181.3 L715.3,182.2 L714.0,183.1 L712.7,184.0 L711.4,184.9 L710.1,185.7 L708.8,186.6 L707.5,187.5 L706.2,188.4 L704.8,189.2 L703.5,190.1 L702.2,191.0 L700.9,191.8 L699.6,192.7 L698.3,193.5 L697.0,194.4 L695.7,195.2 L694.3,196.0 L693.0,196.8 L691.7,197.7 L690.4,198.5 L689.1,199.3 L687.8,200.1 L686.5,200.9 L685.2,201.7 L683.9,202.5 L682.5,203.2 L681.2,204.0 L679.9,204.8 L678.6,205.5 L677.3,206.3 L676.0,207.0 L674.7,207.8 L673.4,208.5 L672.0,209.2 L670.7,210.0 L669.4,210.7 L668.1,211.4 L666.8,212.1 L665.5,212.8 L664.2,213.5 L662.9,214.1 L661.6,214.8 L660.2,215.5 L658.9,216.1 L657.6,216.8 L656.3,217.4 L655.0,218.0 L653.7,218.6 L652.4,219.2 L651.1,219.8 L649.7,220.4 L648.4,220.9 L647.1,221.5 L645.8,222.0 L644.5,222.4 L643.2,222.8 L587.3,222.8" fill="none" stroke="#1010c8" stroke-width="2.6" stroke-linejoin="round" stroke-linecap="round"/>
<path d="M587.3,222.8 L616.6,222.8 L619.1,220.4 L621.5,218.1 L624.0,215.8 L626.4,213.5 L628.9,211.2 L631.4,209.0 L633.8,206.9 L636.3,204.7 L638.7,202.6 L641.2,200.5 L643.7,198.4 L646.1,196.4 L648.6,194.3 L651.0,192.4 L653.5,190.4 L655.9,188.5 L658.4,186.7 L660.9,184.9 L663.3,183.1 L665.8,181.3 L668.2,179.6 L670.7,177.8 L673.2,176.0 L675.6,174.1 L678.1,172.2 L680.5,170.3 L683.0,168.5 L685.4,166.6 L687.9,164.8 L690.4,163.0 L692.8,161.2 L695.3,159.6 L697.7,158.0 L700.2,156.5 L702.7,155.1 L705.1,153.7 L707.6,152.4 L710.0,151.2 L712.5,149.9 L714.9,148.7 L717.4,147.5 L719.9,146.3 L722.3,145.1 L724.8,143.9 L727.2,142.7 L729.7,141.4 L732.2,140.0 L734.6,138.7 L737.1,137.4 L739.5,136.0 L742.0,134.7 L744.4,133.3 L746.9,132.0 L749.4,130.6 L751.8,129.3 L754.3,127.9 L756.7,126.5 L759.2,125.2 L761.7,123.8 L764.1,122.5 L766.6,121.1 L769.0,119.8 L771.5,118.4 L773.9,117.1 L776.4,115.7 L778.9,114.4 L781.3,113.0 L783.8,111.7 L786.2,110.3 L788.7,108.9 L791.2,107.6 L793.6,106.2 L796.1,104.8 L798.5,103.4 L801.0,102.0 L803.4,100.6 L805.9,99.2 L808.4,97.8 L810.8,96.3 L813.3,94.9 L815.7,93.5 L818.2,92.0 L820.7,90.6 L823.1,89.1 L825.6,87.6 L828.0,86.2 L830.5,84.7 L832.9,83.2 L835.4,81.7 L835.4,81.7 L833.8,90.0 L832.3,95.6 L830.7,99.7 L829.1,103.0 L827.6,105.7 L826.0,108.0 L824.4,110.2 L822.8,112.1 L821.3,113.9 L819.7,115.7 L818.1,117.3 L816.6,118.9 L815.0,120.4 L813.4,121.9 L811.9,123.3 L810.3,124.7 L808.7,126.0 L807.2,127.4 L805.6,128.7 L804.0,130.0 L802.4,131.3 L800.9,132.5 L799.3,133.8 L797.7,135.0 L796.2,136.3 L794.6,137.5 L793.0,138.7 L791.5,139.9 L789.9,141.1 L788.3,142.3 L786.8,143.4 L785.2,144.6 L783.6,145.8 L782.0,146.9 L780.5,148.1 L778.9,149.2 L777.3,150.3 L775.8,151.5 L774.2,152.6 L772.6,153.7 L771.1,154.8 L769.5,155.9 L767.9,157.0 L766.3,158.1 L764.8,159.2 L763.2,160.3 L761.6,161.4 L760.1,162.5 L758.5,163.5 L756.9,164.6 L755.4,165.6 L753.8,166.7 L752.2,167.7 L750.7,168.8 L749.1,169.8 L747.5,170.8 L745.9,171.9 L744.4,172.9 L742.8,173.9 L741.2,174.9 L739.7,175.9 L738.1,176.9 L736.5,177.9 L735.0,178.9 L733.4,179.9 L731.8,180.8 L730.3,181.8 L728.7,182.8 L727.1,183.7 L725.5,184.7 L724.0,185.6 L722.4,186.6 L720.8,187.5 L719.3,188.4 L717.7,189.4 L716.1,190.3 L714.6,191.2 L713.0,192.1 L711.4,193.0 L709.9,193.9 L708.3,194.8 L706.7,195.7 L705.1,196.5 L703.6,197.4 L702.0,198.3 L700.4,199.1 L698.9,200.0 L697.3,200.8 L695.7,201.7 L694.2,202.5 L692.6,203.3 L691.0,204.1 L689.4,204.9 L687.9,205.8 L686.3,206.5 L684.7,207.3 L683.2,208.1 L681.6,208.9 L680.0,209.7 L678.5,210.4 L676.9,211.2 L675.3,211.9 L673.8,212.7 L672.2,213.4 L670.6,214.1 L669.0,214.8 L667.5,215.5 L665.9,216.2 L664.3,216.9 L662.8,217.5 L661.2,218.2 L659.6,218.9 L658.1,219.5 L656.5,220.1 L654.9,220.7 L653.4,221.3 L651.8,221.8 L650.2,222.4 L648.6,222.8 L587.3,222.8" fill="none" stroke="#6212dc" stroke-width="2.6" stroke-linejoin="round" stroke-linecap="round"/>
<path d="M587.3,222.8 L622.1,222.8 L624.9,220.1 L627.7,217.4 L630.4,214.7 L633.2,212.1 L636.0,209.5 L638.8,207.0 L641.6,204.6 L644.4,202.3 L647.2,200.0 L650.0,197.7 L652.8,195.5 L655.6,193.3 L658.4,191.1 L661.2,188.9 L664.0,186.8 L666.8,184.6 L669.6,182.5 L672.4,180.3 L675.2,178.1 L678.0,175.9 L680.8,173.7 L683.6,171.5 L686.4,169.4 L689.1,167.3 L691.9,165.2 L694.7,163.3 L697.5,161.4 L700.3,159.6 L703.1,158.0 L705.9,156.4 L708.7,154.8 L711.5,153.4 L714.3,151.9 L717.1,150.5 L719.9,149.1 L722.7,147.6 L725.5,146.2 L728.3,144.7 L731.1,143.2 L733.9,141.7 L736.7,140.1 L739.5,138.6 L742.3,137.0 L745.1,135.5 L747.9,134.0 L750.6,132.4 L753.4,130.9 L756.2,129.3 L759.0,127.8 L761.8,126.3 L764.6,124.8 L767.4,123.3 L770.2,121.8 L773.0,120.3 L775.8,118.9 L778.6,117.4 L781.4,115.9 L784.2,114.4 L787.0,113.0 L789.8,111.5 L792.6,110.0 L795.4,108.4 L798.2,106.8 L801.0,105.3 L803.8,103.7 L806.6,102.0 L809.3,100.4 L812.1,98.8 L814.9,97.1 L817.7,95.4 L820.5,93.7 L823.3,92.0 L826.1,90.3 L828.9,88.5 L831.7,86.7 L834.5,84.9 L837.3,83.0 L840.1,81.1 L842.9,79.2 L845.7,77.3 L848.5,75.3 L851.3,73.3 L854.1,71.3 L856.9,69.2 L859.7,67.1 L862.5,65.0 L865.3,62.8 L868.1,60.7 L870.8,58.5 L870.8,58.5 L869.0,71.1 L867.2,79.5 L865.4,85.5 L863.6,90.1 L861.7,93.8 L859.9,97.0 L858.1,99.8 L856.3,102.3 L854.5,104.7 L852.6,106.8 L850.8,108.8 L849.0,110.7 L847.2,112.5 L845.3,114.3 L843.5,116.0 L841.7,117.6 L839.9,119.2 L838.1,120.7 L836.2,122.2 L834.4,123.7 L832.6,125.1 L830.8,126.6 L829.0,128.0 L827.1,129.4 L825.3,130.7 L823.5,132.1 L821.7,133.4 L819.8,134.8 L818.0,136.1 L816.2,137.4 L814.4,138.7 L812.6,140.0 L810.7,141.3 L808.9,142.5 L807.1,143.8 L805.3,145.0 L803.5,146.3 L801.6,147.5 L799.8,148.7 L798.0,149.9 L796.2,151.2 L794.3,152.4 L792.5,153.5 L790.7,154.7 L788.9,155.9 L787.1,157.1 L785.2,158.2 L783.4,159.4 L781.6,160.5 L779.8,161.7 L778.0,162.8 L776.1,163.9 L774.3,165.1 L772.5,166.2 L770.7,167.3 L768.8,168.4 L767.0,169.5 L765.2,170.6 L763.4,171.6 L761.6,172.7 L759.7,173.8 L757.9,174.8 L756.1,175.9 L754.3,176.9 L752.5,178.0 L750.6,179.0 L748.8,180.0 L747.0,181.0 L745.2,182.0 L743.3,183.0 L741.5,184.0 L739.7,185.0 L737.9,186.0 L736.1,187.0 L734.2,187.9 L732.4,188.9 L730.6,189.9 L728.8,190.8 L727.0,191.7 L725.1,192.7 L723.3,193.6 L721.5,194.5 L719.7,195.4 L717.8,196.3 L716.0,197.2 L714.2,198.1 L712.4,199.0 L710.6,199.9 L708.7,200.8 L706.9,201.6 L705.1,202.5 L703.3,203.3 L701.5,204.2 L699.6,205.0 L697.8,205.8 L696.0,206.6 L694.2,207.4 L692.3,208.2 L690.5,209.0 L688.7,209.8 L686.9,210.6 L685.1,211.3 L683.2,212.1 L681.4,212.8 L679.6,213.6 L677.8,214.3 L676.0,215.0 L674.1,215.8 L672.3,216.5 L670.5,217.2 L668.7,217.8 L666.8,218.5 L665.0,219.2 L663.2,219.8 L661.4,220.5 L659.6,221.1 L657.7,221.7 L655.9,222.3 L654.1,222.8 L587.3,222.8" fill="none" stroke="#e414d2" stroke-width="2.6" stroke-linejoin="round" stroke-linecap="round"/>
<path d="M587.3,222.8 L628.2,222.8 L631.3,219.4 L634.4,216.3 L637.4,213.5 L640.5,210.7 L643.6,208.1 L646.7,205.6 L649.7,203.2 L652.8,200.7 L655.9,198.1 L659.0,195.5 L662.1,192.8 L665.1,190.1 L668.2,187.5 L671.3,185.0 L674.4,182.6 L677.5,180.2 L680.5,177.9 L683.6,175.6 L686.7,173.4 L689.8,171.2 L692.8,169.1 L695.9,167.0 L699.0,165.0 L702.1,163.0 L705.2,161.1 L708.2,159.3 L711.3,157.5 L714.4,155.7 L717.5,154.0 L720.6,152.3 L723.6,150.5 L726.7,148.8 L729.8,147.1 L732.9,145.4 L736.0,143.6 L739.0,141.9 L742.1,140.2 L745.2,138.6 L748.3,136.9 L751.3,135.2 L754.4,133.5 L757.5,131.9 L760.6,130.2 L763.7,128.5 L766.7,126.9 L769.8,125.2 L772.9,123.6 L776.0,122.0 L779.1,120.3 L782.1,118.7 L785.2,117.1 L788.3,115.5 L791.4,113.8 L794.4,112.1 L797.5,110.4 L800.6,108.7 L803.7,107.0 L806.8,105.2 L809.8,103.5 L812.9,101.8 L816.0,100.0 L819.1,98.2 L822.2,96.4 L825.2,94.5 L828.3,92.7 L831.4,90.7 L834.5,88.8 L837.5,86.8 L840.6,84.7 L843.7,82.6 L846.8,80.5 L849.9,78.4 L852.9,76.2 L856.0,73.9 L859.1,71.6 L862.2,69.3 L865.3,66.9 L868.3,64.4 L871.4,61.9 L874.5,59.3 L877.6,56.6 L880.6,53.8 L883.7,51.0 L886.8,48.1 L889.9,45.1 L893.0,42.0 L896.0,38.9 L899.1,35.7 L902.2,32.5 L905.6,32.5 L903.6,50.3 L901.5,62.0 L899.4,70.2 L897.4,76.4 L895.3,81.3 L893.3,85.4 L891.2,89.0 L889.2,92.2 L887.1,95.0 L885.0,97.7 L883.0,100.1 L880.9,102.4 L878.9,104.6 L876.8,106.6 L874.8,108.6 L872.7,110.5 L870.7,112.3 L868.6,114.1 L866.5,115.8 L864.5,117.4 L862.4,119.1 L860.4,120.7 L858.3,122.3 L856.3,123.8 L854.2,125.4 L852.1,126.9 L850.1,128.4 L848.0,129.8 L846.0,131.3 L843.9,132.7 L841.9,134.2 L839.8,135.6 L837.8,137.0 L835.7,138.3 L833.6,139.7 L831.6,141.1 L829.5,142.4 L827.5,143.8 L825.4,145.1 L823.4,146.4 L821.3,147.7 L819.2,149.0 L817.2,150.3 L815.1,151.6 L813.1,152.8 L811.0,154.1 L809.0,155.4 L806.9,156.6 L804.9,157.8 L802.8,159.0 L800.7,160.3 L798.7,161.5 L796.6,162.6 L794.6,163.8 L792.5,165.0 L790.5,166.2 L788.4,167.3 L786.3,168.5 L784.3,169.6 L782.2,170.8 L780.2,171.9 L778.1,173.0 L776.1,174.1 L774.0,175.2 L772.0,176.3 L769.9,177.4 L767.8,178.5 L765.8,179.5 L763.7,180.6 L761.7,181.6 L759.6,182.7 L757.6,183.7 L755.5,184.7 L753.4,185.7 L751.4,186.7 L749.3,187.7 L747.3,188.7 L745.2,189.7 L743.2,190.7 L741.1,191.7 L739.1,192.6 L737.0,193.6 L734.9,194.5 L732.9,195.4 L730.8,196.4 L728.8,197.3 L726.7,198.2 L724.7,199.1 L722.6,200.0 L720.5,200.9 L718.5,201.7 L716.4,202.6 L714.4,203.5 L712.3,204.3 L710.3,205.1 L708.2,206.0 L706.2,206.8 L704.1,207.6 L702.0,208.4 L700.0,209.2 L697.9,210.0 L695.9,210.8 L693.8,211.6 L691.8,212.3 L689.7,213.1 L687.6,213.8 L685.6,214.6 L683.5,215.3 L681.5,216.0 L679.4,216.8 L677.4,217.5 L675.3,218.2 L673.3,218.9 L671.2,219.5 L669.1,220.2 L667.1,220.9 L665.0,221.5 L663.0,222.2 L660.9,222.8 L587.3,222.8" fill="none" stroke="#e6145a" stroke-width="2.6" stroke-linejoin="round" stroke-linecap="round"/>
<line x1="80" y1="348.8" x2="80" y2="571.9" stroke="#000" stroke-width="1.8"/>
<line x1="79.1" y1="571" x2="423.2" y2="571" stroke="#000" stroke-width="1.8"/>
<line x1="66.3" y1="564.8" x2="80" y2="564.8" stroke="#000" stroke-width="1.8"/>
<text x="58.7" y="571.7" font-size="21" text-anchor="end" font-weight="normal" fill="#000">0</text>
<line x1="66.3" y1="493" x2="80" y2="493" stroke="#000" stroke-width="1.8"/>
<text x="58.7" y="499.9" font-size="21" text-anchor="end" font-weight="normal" fill="#000">10</text>
<line x1="66.3" y1="421.2" x2="80" y2="421.2" stroke="#000" stroke-width="1.8"/>
<text x="58.7" y="428.1" font-size="21" text-anchor="end" font-weight="normal" fill="#000">20</text>
<line x1="66.3" y1="349.4" x2="80" y2="349.4" stroke="#000" stroke-width="1.8"/>
<text x="58.7" y="356.3" font-size="21" text-anchor="end" font-weight="normal" fill="#000">30</text>
<line x1="116" y1="571" x2="116" y2="585" stroke="#000" stroke-width="1.8"/>
<text x="116" y="612.8" font-size="21" text-anchor="middle" font-weight="normal" fill="#000">0</text>
<line x1="218.45" y1="571" x2="218.45" y2="585" stroke="#000" stroke-width="1.8"/>
<text x="218.45" y="612.8" font-size="21" text-anchor="middle" font-weight="normal" fill="#000">100</text>
<line x1="320.9" y1="571" x2="320.9" y2="585" stroke="#000" stroke-width="1.8"/>
<text x="320.9" y="612.8" font-size="21" text-anchor="middle" font-weight="normal" fill="#000">200</text>
<line x1="423.35" y1="571" x2="423.35" y2="585" stroke="#000" stroke-width="1.8"/>
<text x="423.35" y="612.8" font-size="21" text-anchor="middle" font-weight="normal" fill="#000">300</text>
<line x1="167.22" y1="571" x2="167.22" y2="578" stroke="#000" stroke-width="1.8"/>
<line x1="269.67" y1="571" x2="269.67" y2="578" stroke="#000" stroke-width="1.8"/>
<line x1="372.12" y1="571" x2="372.12" y2="578" stroke="#000" stroke-width="1.8"/>
<text x="251" y="641.8" font-size="21" text-anchor="middle" font-weight="normal" fill="#000">Strain (%)</text>
<text x="17.4" y="460.4" font-size="21" text-anchor="middle" font-weight="normal" fill="#000" transform="rotate(-90 17.4 460.4)">Stress (kPa)</text>
<text x="0.8" y="337" font-size="26" text-anchor="start" font-weight="bold" fill="#000">c</text>
<path d="M120.2,563.8 L123.6,563.8 L126.9,563.8 L130.1,563.8 L133.1,563.8 L136.1,563.8 L138.9,563.8 L141.6,563.8 L144.3,563.8 L146.8,563.8 L149.3,563.8 L151.7,563.8 L154.0,563.8 L156.2,563.8 L158.4,563.4 L160.6,562.1 L162.7,560.7 L164.7,559.2 L166.7,557.6 L168.7,555.9 L170.6,554.2 L172.5,552.4 L174.5,550.6 L176.4,548.7 L178.3,546.8 L180.2,544.9 L182.1,543.0 L184.0,541.1 L185.9,539.2 L187.8,537.3 L189.8,535.3 L191.7,533.5 L193.7,531.6 L195.7,529.7 L197.7,527.8 L199.7,526.0 L201.7,524.2 L203.7,522.4 L205.8,520.7 L207.9,518.9 L210.0,517.2 L212.1,515.5 L214.2,513.8 L216.3,512.2 L218.5,510.5 L220.6,508.9 L222.8,507.3 L225.0,505.7 L227.2,504.2 L229.4,502.6 L231.6,501.1 L233.9,499.6 L236.1,498.1 L238.4,496.6 L240.7,495.1 L242.9,493.7 L245.2,492.2 L247.5,490.8 L249.8,489.4 L252.1,488.0 L254.5,486.6 L256.8,485.2 L259.1,483.8 L261.5,482.5 L263.8,481.1 L266.2,479.8 L268.5,478.4 L270.9,477.1 L273.3,475.8 L275.7,474.4 L278.0,473.1 L280.4,471.8 L282.8,470.5 L285.2,469.2 L287.6,467.9 L290.0,466.6 L292.4,465.3 L294.8,464.0 L297.2,462.8 L299.6,461.5 L301.9,460.2 L304.3,458.9 L306.7,457.6 L309.1,456.3 L311.5,455.0 L313.9,453.7 L316.3,452.4 L318.7,451.1 L321.1,449.8 L323.4,448.5 L325.8,447.2 L328.2,445.8 L330.5,444.5 L332.9,443.2 L335.3,441.8 L337.6,440.5 L339.9,439.1 L342.3,437.7 L344.6,436.4 L346.9,435.0 L349.2,433.6 L351.5,432.2 L353.8,430.7 L356.1,429.3 L358.4,427.8 L360.6,426.4 L362.9,424.9 L365.1,423.4 L367.4,421.9 L369.6,420.4 L371.8,418.8 L374.0,417.3 L376.2,415.7 L378.3,414.1 L380.5,412.5 L382.6,410.8 L384.8,409.2 L386.9,407.5 L389.0,405.8 L391.1,404.1 L391.1,404.1 L391.1,407.0 L390.9,409.9 L390.5,412.7 L390.0,415.4 L389.3,418.1 L388.5,420.8 L387.5,423.4 L386.4,426.0 L385.3,428.5 L384.0,431.0 L382.6,433.4 L381.2,435.8 L379.6,438.2 L378.1,440.6 L376.5,443.0 L374.8,445.3 L373.1,447.6 L371.4,449.9 L369.7,452.1 L367.9,454.4 L366.1,456.6 L364.2,458.7 L362.3,460.8 L360.4,462.9 L358.4,465.0 L356.4,466.9 L354.4,468.9 L352.3,470.8 L350.2,472.6 L348.0,474.4 L345.8,476.2 L343.6,478.0 L341.4,479.7 L339.1,481.4 L336.9,483.0 L334.6,484.7 L332.3,486.3 L329.9,487.9 L327.6,489.5 L325.3,491.1 L322.9,492.7 L320.6,494.3 L318.2,495.8 L315.9,497.4 L313.5,499.0 L311.1,500.5 L308.7,502.1 L306.4,503.6 L304.0,505.1 L301.6,506.7 L299.2,508.2 L296.8,509.7 L294.4,511.2 L292.0,512.7 L289.6,514.2 L287.1,515.7 L284.7,517.2 L282.3,518.6 L279.8,520.1 L277.4,521.5 L274.9,523.0 L272.5,524.4 L270.0,525.8 L267.6,527.2 L265.1,528.6 L262.6,530.0 L260.1,531.4 L257.7,532.8 L255.2,534.1 L252.7,535.5 L250.2,536.8 L247.7,538.1 L245.2,539.4 L242.6,540.7 L240.1,542.0 L237.6,543.3 L235.1,544.6 L232.5,545.8 L230.0,547.0 L227.4,548.3 L224.9,549.5 L222.3,550.7 L219.7,551.9 L217.2,553.0 L214.6,554.2 L212.0,555.3 L209.4,556.4 L206.8,557.5 L204.2,558.6 L201.6,559.6 L198.9,560.5 L196.3,561.3 L193.6,562.0 L190.8,562.6 L188.1,563.1 L185.3,563.5 L182.5,563.8 L179.7,563.8 L176.8,563.8 L174.0,563.8 L171.1,563.8 L168.2,563.8 L165.3,563.8 L162.4,563.7 L159.5,563.5 L156.6,563.3 L153.7,563.1 L150.8,563.0 L147.9,562.8 L145.0,562.6 L142.2,562.5 L139.3,562.4 L136.5,562.4 L133.7,562.4 L130.9,562.5 L128.1,562.7 L125.4,562.9 L122.7,563.3 L120.0,563.8" fill="none" stroke="#5a14b4" stroke-width="3.3" stroke-linejoin="round" stroke-linecap="round"/>
<path d="M120.3,563.8 L123.7,563.8 L127.0,563.8 L130.2,563.8 L133.2,563.8 L136.0,563.8 L138.8,563.8 L141.4,563.8 L143.8,563.8 L146.2,563.8 L148.5,563.8 L150.7,563.8 L152.8,562.6 L154.9,561.2 L156.9,559.7 L158.8,558.0 L160.7,556.3 L162.6,554.5 L164.4,552.6 L166.2,550.7 L168.0,548.7 L169.9,546.8 L171.7,544.8 L173.5,542.8 L175.4,540.8 L177.2,538.9 L179.1,537.0 L181.1,535.1 L183.0,533.2 L185.0,531.3 L187.0,529.5 L189.0,527.7 L191.0,525.8 L193.0,524.1 L195.1,522.3 L197.1,520.6 L199.2,518.8 L201.3,517.1 L203.5,515.5 L205.6,513.8 L207.7,512.2 L209.9,510.6 L212.1,509.0 L214.3,507.4 L216.5,505.9 L218.7,504.3 L221.0,502.8 L223.2,501.3 L225.5,499.9 L227.7,498.4 L230.0,496.9 L232.3,495.5 L234.6,494.1 L236.9,492.7 L239.2,491.3 L241.6,489.9 L243.9,488.6 L246.2,487.2 L248.6,485.9 L251.0,484.5 L253.3,483.2 L255.7,481.9 L258.1,480.6 L260.5,479.3 L262.9,478.0 L265.2,476.7 L267.6,475.4 L270.1,474.2 L272.5,472.9 L274.9,471.6 L277.3,470.4 L279.7,469.1 L282.1,467.9 L284.5,466.6 L287.0,465.4 L289.4,464.1 L291.8,462.9 L294.2,461.6 L296.6,460.4 L299.1,459.1 L301.5,457.9 L303.9,456.6 L306.3,455.4 L308.7,454.1 L311.1,452.8 L313.6,451.6 L316.0,450.3 L318.4,449.0 L320.8,447.7 L323.1,446.4 L325.5,445.1 L327.9,443.8 L330.3,442.5 L332.6,441.2 L335.0,439.8 L337.4,438.5 L339.7,437.1 L342.0,435.7 L344.4,434.4 L346.7,433.0 L349.0,431.6 L351.3,430.1 L353.6,428.7 L355.9,427.2 L358.1,425.8 L360.4,424.3 L362.6,422.8 L364.9,421.3 L367.1,419.7 L369.3,418.2 L371.5,416.6 L373.7,415.0 L375.8,413.4 L378.0,411.7 L380.1,410.1 L382.2,408.4 L384.3,406.7 L386.4,405.0 L388.5,403.2 L390.6,401.4 L391.1,402.1 L391.1,405.0 L390.9,407.9 L390.6,410.7 L390.1,413.5 L389.5,416.2 L388.7,418.9 L387.8,421.6 L386.7,424.2 L385.6,426.7 L384.3,429.2 L383.0,431.7 L381.6,434.2 L380.1,436.6 L378.6,439.0 L377.0,441.4 L375.4,443.7 L373.7,446.1 L372.0,448.4 L370.3,450.7 L368.5,452.9 L366.7,455.2 L364.9,457.4 L363.0,459.5 L361.1,461.6 L359.1,463.7 L357.1,465.7 L355.1,467.7 L353.0,469.6 L350.9,471.5 L348.8,473.4 L346.6,475.2 L344.4,476.9 L342.2,478.7 L339.9,480.4 L337.6,482.1 L335.3,483.7 L333.0,485.4 L330.7,487.0 L328.4,488.6 L326.0,490.2 L323.7,491.8 L321.3,493.4 L318.9,494.9 L316.6,496.5 L314.2,498.1 L311.8,499.6 L309.4,501.2 L307.0,502.8 L304.6,504.3 L302.2,505.8 L299.8,507.4 L297.4,508.9 L295.0,510.4 L292.6,511.9 L290.1,513.4 L287.7,514.9 L285.3,516.4 L282.8,517.8 L280.4,519.3 L277.9,520.8 L275.5,522.2 L273.0,523.6 L270.5,525.1 L268.1,526.5 L265.6,527.9 L263.1,529.3 L260.6,530.7 L258.1,532.0 L255.6,533.4 L253.1,534.8 L250.6,536.1 L248.1,537.4 L245.6,538.7 L243.0,540.1 L240.5,541.4 L238.0,542.6 L235.4,543.9 L232.9,545.2 L230.3,546.4 L227.8,547.6 L225.2,548.9 L222.6,550.1 L220.0,551.3 L217.5,552.4 L214.9,553.6 L212.3,554.8 L209.7,555.9 L207.1,557.0 L204.5,558.1 L201.8,559.1 L199.2,560.0 L196.5,560.9 L193.8,561.7 L191.1,562.3 L188.3,562.9 L185.6,563.3 L182.8,563.6 L179.9,563.8 L177.1,563.8 L174.2,563.8 L171.3,563.8 L168.4,563.8 L165.5,563.8 L162.6,563.8 L159.7,563.7 L156.8,563.5 L153.9,563.3 L151.0,563.1 L148.1,563.0 L145.2,562.8 L142.3,562.7 L139.5,562.6 L136.6,562.5 L133.8,562.5 L131.0,562.6 L128.2,562.8 L125.4,563.0 L122.7,563.3 L120.0,563.8" fill="none" stroke="#1438dc" stroke-width="3.3" stroke-linejoin="round" stroke-linecap="round"/>
<path d="M120.4,563.8 L123.7,563.8 L126.7,563.8 L129.6,563.8 L132.4,563.8 L135.0,563.8 L137.5,563.8 L139.9,563.8 L142.2,562.9 L144.4,561.7 L146.5,560.4 L148.5,558.9 L150.5,557.3 L152.3,555.6 L154.2,553.8 L156.0,551.9 L157.7,549.9 L159.5,547.9 L161.2,545.8 L162.9,543.7 L164.7,541.6 L166.4,539.5 L168.2,537.4 L170.0,535.3 L171.8,533.3 L173.7,531.4 L175.6,529.5 L177.5,527.6 L179.5,525.7 L181.5,523.9 L183.6,522.2 L185.6,520.5 L187.7,518.7 L189.8,517.1 L192.0,515.4 L194.1,513.8 L196.3,512.2 L198.5,510.6 L200.6,509.0 L202.9,507.5 L205.1,506.0 L207.3,504.5 L209.5,503.0 L211.8,501.5 L214.1,500.0 L216.3,498.6 L218.6,497.1 L220.9,495.7 L223.2,494.3 L225.6,492.9 L227.9,491.6 L230.2,490.2 L232.6,488.8 L234.9,487.5 L237.3,486.2 L239.7,484.9 L242.0,483.5 L244.4,482.2 L246.8,481.0 L249.2,479.7 L251.6,478.4 L254.0,477.1 L256.4,475.9 L258.8,474.6 L261.3,473.4 L263.7,472.1 L266.1,470.9 L268.6,469.7 L271.0,468.4 L273.4,467.2 L275.9,466.0 L278.3,464.7 L280.7,463.5 L283.2,462.3 L285.6,461.1 L288.1,459.9 L290.5,458.6 L293.0,457.4 L295.4,456.2 L297.8,455.0 L300.3,453.8 L302.7,452.5 L305.1,451.3 L307.6,450.0 L310.0,448.8 L312.4,447.6 L314.8,446.3 L317.3,445.0 L319.7,443.8 L322.1,442.5 L324.5,441.2 L326.9,439.9 L329.3,438.6 L331.6,437.3 L334.0,436.0 L336.4,434.7 L338.7,433.3 L341.1,432.0 L343.4,430.6 L345.8,429.2 L348.1,427.9 L350.4,426.4 L352.7,425.0 L355.0,423.6 L357.3,422.2 L359.6,420.7 L361.8,419.2 L364.1,417.7 L366.3,416.2 L368.6,414.7 L370.8,413.1 L373.0,411.6 L375.2,410.0 L377.3,408.4 L379.5,406.7 L381.6,405.1 L383.8,403.4 L385.9,401.7 L388.0,400.0 L390.1,398.3 L390.7,399.0 L390.4,401.9 L390.0,404.7 L389.5,407.5 L388.9,410.3 L388.2,413.0 L387.4,415.8 L386.6,418.5 L385.7,421.2 L384.7,423.9 L383.6,426.5 L382.5,429.1 L381.2,431.7 L380.0,434.3 L378.6,436.8 L377.2,439.3 L375.7,441.7 L374.1,444.2 L372.5,446.5 L370.9,448.9 L369.1,451.2 L367.4,453.5 L365.5,455.7 L363.6,457.8 L361.7,460.0 L359.8,462.1 L357.7,464.1 L355.7,466.1 L353.6,468.0 L351.5,469.9 L349.3,471.7 L347.1,473.5 L344.9,475.3 L342.6,477.0 L340.4,478.7 L338.1,480.4 L335.8,482.0 L333.4,483.7 L331.1,485.3 L328.7,486.9 L326.3,488.4 L324.0,490.0 L321.6,491.6 L319.2,493.2 L316.8,494.7 L314.4,496.3 L312.0,497.9 L309.6,499.4 L307.2,501.0 L304.8,502.5 L302.4,504.1 L300.0,505.6 L297.6,507.2 L295.2,508.7 L292.7,510.2 L290.3,511.8 L287.9,513.3 L285.4,514.8 L283.0,516.3 L280.6,517.8 L278.1,519.3 L275.7,520.8 L273.2,522.2 L270.7,523.7 L268.3,525.1 L265.8,526.6 L263.3,528.0 L260.8,529.4 L258.3,530.8 L255.8,532.2 L253.3,533.6 L250.8,535.0 L248.3,536.4 L245.8,537.7 L243.3,539.0 L240.8,540.4 L238.2,541.7 L235.7,543.0 L233.1,544.2 L230.6,545.5 L228.0,546.7 L225.4,548.0 L222.8,549.2 L220.3,550.4 L217.7,551.5 L215.1,552.7 L212.5,553.8 L209.9,554.9 L207.2,556.0 L204.6,557.1 L202.0,558.1 L199.3,559.1 L196.6,560.0 L193.9,560.8 L191.2,561.6 L188.5,562.2 L185.7,562.8 L182.9,563.3 L180.1,563.6 L177.3,563.8 L174.5,563.8 L171.6,563.8 L168.7,563.8 L165.8,563.8 L163.0,563.8 L160.1,563.8 L157.2,563.8 L154.3,563.8 L151.4,563.8 L148.5,563.8 L145.6,563.8 L142.7,563.7 L139.8,563.5 L136.9,563.5 L134.1,563.4 L131.2,563.4 L128.4,563.4 L125.6,563.4 L122.8,563.6 L120.0,563.7" fill="none" stroke="#28e6f0" stroke-width="3.3" stroke-linejoin="round" stroke-linecap="round"/>
<path d="M120.0,563.8 L123.3,563.8 L126.5,563.8 L129.4,563.8 L132.1,563.8 L134.6,563.6 L137.0,562.6 L139.3,561.5 L141.4,560.1 L143.4,558.6 L145.3,556.9 L147.1,555.0 L148.8,553.1 L150.5,551.0 L152.1,548.8 L153.7,546.6 L155.2,544.3 L156.8,542.0 L158.4,539.8 L160.0,537.5 L161.6,535.3 L163.3,533.1 L165.1,531.0 L166.9,529.0 L168.8,527.0 L170.7,525.1 L172.6,523.3 L174.6,521.5 L176.7,519.8 L178.8,518.1 L180.9,516.4 L183.0,514.8 L185.2,513.2 L187.3,511.6 L189.5,510.0 L191.7,508.5 L194.0,507.0 L196.2,505.5 L198.4,504.0 L200.7,502.5 L202.9,501.0 L205.2,499.6 L207.5,498.1 L209.8,496.7 L212.1,495.3 L214.4,493.9 L216.7,492.5 L219.1,491.1 L221.4,489.8 L223.8,488.4 L226.1,487.1 L228.5,485.7 L230.8,484.4 L233.2,483.1 L235.6,481.8 L238.0,480.5 L240.4,479.2 L242.8,477.9 L245.2,476.6 L247.6,475.3 L250.0,474.0 L252.4,472.8 L254.8,471.5 L257.3,470.3 L259.7,469.0 L262.1,467.8 L264.6,466.5 L267.0,465.3 L269.4,464.0 L271.9,462.8 L274.3,461.6 L276.8,460.3 L279.2,459.1 L281.7,457.9 L284.1,456.7 L286.6,455.4 L289.0,454.2 L291.5,453.0 L293.9,451.7 L296.3,450.5 L298.8,449.3 L301.2,448.0 L303.7,446.8 L306.1,445.5 L308.5,444.3 L311.0,443.0 L313.4,441.8 L315.8,440.5 L318.2,439.2 L320.7,438.0 L323.1,436.7 L325.5,435.4 L327.9,434.1 L330.3,432.8 L332.7,431.5 L335.1,430.2 L337.4,428.9 L339.8,427.5 L342.2,426.2 L344.5,424.8 L346.9,423.5 L349.2,422.1 L351.6,420.7 L353.9,419.3 L356.2,417.9 L358.5,416.5 L360.8,415.0 L363.1,413.6 L365.4,412.1 L367.7,410.7 L369.9,409.2 L372.2,407.7 L374.4,406.2 L376.6,404.6 L378.8,403.1 L381.0,401.5 L383.2,399.9 L385.4,398.3 L387.6,396.7 L389.7,395.1 L390.2,395.6 L389.7,398.4 L389.3,401.1 L388.7,403.9 L388.0,406.7 L387.3,409.4 L386.5,412.2 L385.7,414.9 L384.7,417.6 L383.7,420.3 L382.7,423.0 L381.5,425.6 L380.3,428.3 L379.1,430.9 L377.8,433.5 L376.4,436.0 L374.9,438.5 L373.4,441.0 L371.9,443.4 L370.2,445.8 L368.6,448.2 L366.8,450.5 L365.1,452.7 L363.2,454.9 L361.4,457.1 L359.4,459.2 L357.5,461.2 L355.4,463.2 L353.4,465.2 L351.3,467.1 L349.2,469.0 L347.0,470.8 L344.8,472.6 L342.6,474.4 L340.3,476.1 L338.0,477.8 L335.7,479.5 L333.4,481.2 L331.1,482.9 L328.7,484.5 L326.4,486.1 L324.0,487.7 L321.6,489.3 L319.2,490.9 L316.8,492.5 L314.4,494.1 L312.0,495.7 L309.6,497.3 L307.2,498.9 L304.8,500.4 L302.4,502.0 L300.0,503.6 L297.6,505.2 L295.2,506.7 L292.7,508.3 L290.3,509.8 L287.9,511.4 L285.5,512.9 L283.0,514.4 L280.6,515.9 L278.1,517.4 L275.7,518.9 L273.2,520.4 L270.8,521.9 L268.3,523.4 L265.8,524.9 L263.4,526.3 L260.9,527.8 L258.4,529.2 L255.9,530.6 L253.4,532.0 L250.9,533.4 L248.4,534.8 L245.9,536.2 L243.4,537.5 L240.8,538.9 L238.3,540.2 L235.8,541.5 L233.2,542.8 L230.7,544.1 L228.1,545.4 L225.5,546.6 L222.9,547.9 L220.4,549.1 L217.8,550.3 L215.2,551.5 L212.6,552.7 L210.0,553.8 L207.3,554.9 L204.7,556.0 L202.1,557.1 L199.4,558.2 L196.7,559.1 L194.0,560.1 L191.3,560.9 L188.6,561.7 L185.9,562.3 L183.1,562.9 L180.3,563.3 L177.5,563.7 L174.6,563.8 L171.8,563.8 L168.9,563.8 L166.0,563.8 L163.1,563.8 L160.2,563.8 L157.3,563.8 L154.4,563.8 L151.5,563.8 L148.6,563.8 L145.7,563.8 L142.8,563.7 L139.9,563.6 L137.0,563.5 L134.1,563.4 L131.3,563.4 L128.4,563.4 L125.6,563.4 L122.8,563.6 L120.0,563.7" fill="none" stroke="#0a8214" stroke-width="3.3" stroke-linejoin="round" stroke-linecap="round"/>
<path d="M119.1,563.8 L121.6,563.8 L123.9,563.4 L126.1,562.1 L128.3,560.7 L130.3,559.1 L132.3,557.4 L134.2,555.6 L136.0,553.7 L137.7,551.8 L139.5,549.7 L141.1,547.6 L142.8,545.4 L144.4,543.2 L146.0,540.9 L147.7,538.7 L149.3,536.4 L150.9,534.1 L152.6,531.9 L154.3,529.7 L156.0,527.5 L157.7,525.3 L159.5,523.2 L161.3,521.1 L163.2,519.0 L165.0,517.0 L166.9,515.0 L168.9,513.0 L170.8,511.0 L172.8,509.2 L174.9,507.3 L176.9,505.5 L179.0,503.7 L181.2,502.0 L183.3,500.3 L185.5,498.7 L187.8,497.1 L190.0,495.5 L192.3,494.0 L194.7,492.5 L197.0,491.1 L199.4,489.7 L201.8,488.3 L204.2,486.9 L206.6,485.6 L209.1,484.3 L211.6,483.0 L214.1,481.8 L216.6,480.5 L219.1,479.3 L221.6,478.0 L224.1,476.8 L226.6,475.6 L229.1,474.4 L231.7,473.2 L234.2,472.0 L236.7,470.8 L239.3,469.6 L241.8,468.3 L244.3,467.1 L246.8,465.9 L249.3,464.7 L251.8,463.4 L254.3,462.2 L256.8,460.9 L259.2,459.6 L261.7,458.4 L264.2,457.1 L266.7,455.8 L269.1,454.5 L271.6,453.2 L274.0,451.9 L276.5,450.6 L278.9,449.3 L281.4,448.0 L283.8,446.7 L286.2,445.4 L288.7,444.0 L291.1,442.7 L293.5,441.4 L295.9,440.0 L298.3,438.7 L300.8,437.3 L303.2,436.0 L305.6,434.6 L308.0,433.3 L310.4,431.9 L312.8,430.6 L315.2,429.2 L317.6,427.8 L320.0,426.5 L322.4,425.1 L324.8,423.7 L327.2,422.4 L329.6,421.0 L332.0,419.6 L334.4,418.3 L336.8,416.9 L339.2,415.5 L341.5,414.1 L343.9,412.8 L346.3,411.4 L348.7,410.0 L351.1,408.6 L353.5,407.3 L355.9,405.9 L358.3,404.5 L360.7,403.1 L363.1,401.8 L365.5,400.4 L367.9,399.0 L370.3,397.7 L372.7,396.3 L375.1,395.0 L377.5,393.6 L379.9,392.2 L382.3,390.9 L384.7,389.5 L387.1,388.2 L389.6,386.8 L389.9,387.7 L389.4,390.4 L388.8,393.2 L388.2,396.0 L387.5,398.7 L386.8,401.5 L386.0,404.3 L385.2,407.1 L384.3,409.9 L383.4,412.7 L382.4,415.4 L381.4,418.2 L380.3,420.9 L379.2,423.6 L378.0,426.3 L376.7,429.0 L375.4,431.6 L374.0,434.1 L372.6,436.7 L371.1,439.2 L369.6,441.6 L367.9,444.0 L366.3,446.4 L364.5,448.7 L362.7,451.0 L360.9,453.2 L359.0,455.3 L357.0,457.4 L355.0,459.5 L353.0,461.6 L350.9,463.6 L348.8,465.5 L346.6,467.5 L344.4,469.4 L342.2,471.2 L339.9,473.1 L337.6,474.9 L335.3,476.7 L333.0,478.5 L330.7,480.2 L328.3,481.9 L326.0,483.6 L323.6,485.3 L321.2,487.0 L318.8,488.7 L316.4,490.3 L314.0,492.0 L311.6,493.6 L309.1,495.2 L306.7,496.8 L304.3,498.4 L301.9,500.0 L299.4,501.6 L297.0,503.1 L294.5,504.7 L292.0,506.2 L289.6,507.7 L287.1,509.3 L284.6,510.8 L282.2,512.3 L279.7,513.8 L277.2,515.3 L274.7,516.8 L272.2,518.2 L269.7,519.7 L267.2,521.2 L264.7,522.6 L262.1,524.1 L259.6,525.5 L257.1,526.9 L254.6,528.4 L252.0,529.8 L249.5,531.2 L246.9,532.7 L244.4,534.1 L241.9,535.5 L239.3,536.9 L236.7,538.3 L234.2,539.7 L231.6,541.1 L229.1,542.6 L226.5,544.0 L223.9,545.4 L221.3,546.8 L218.8,548.2 L216.2,549.5 L213.6,550.9 L211.0,552.2 L208.4,553.5 L205.7,554.8 L203.1,556.0 L200.4,557.1 L197.7,558.2 L195.0,559.2 L192.3,560.1 L189.6,560.9 L186.8,561.6 L184.0,562.2 L181.2,562.7 L178.3,563.1 L175.4,563.4 L172.5,563.6 L169.6,563.7 L166.6,563.7 L163.7,563.7 L160.7,563.7 L157.7,563.6 L154.8,563.4 L151.8,563.3 L148.8,563.2 L145.9,563.0 L142.9,562.9 L140.0,562.8 L137.0,562.8 L134.1,562.8 L131.2,562.8 L128.4,562.9 L125.6,563.1 L122.8,563.4 L120.0,563.8" fill="none" stroke="#c8821e" stroke-width="3.3" stroke-linejoin="round" stroke-linecap="round"/>
<path d="M118.1,563.8 L120.2,563.2 L122.2,561.4 L124.1,559.4 L126.0,557.4 L127.9,555.3 L129.6,553.2 L131.4,551.0 L133.1,548.8 L134.8,546.5 L136.5,544.2 L138.2,541.9 L139.8,539.5 L141.5,537.2 L143.1,534.8 L144.8,532.4 L146.5,530.1 L148.2,527.7 L149.9,525.4 L151.6,523.1 L153.4,520.8 L155.2,518.6 L157.1,516.4 L159.0,514.2 L160.9,512.0 L162.8,509.9 L164.8,507.8 L166.8,505.7 L168.8,503.7 L170.9,501.7 L173.0,499.7 L175.1,497.8 L177.2,495.8 L179.4,493.9 L181.5,492.1 L183.7,490.2 L185.9,488.4 L188.2,486.6 L190.4,484.8 L192.7,483.0 L194.9,481.3 L197.2,479.6 L199.6,477.9 L201.9,476.2 L204.2,474.6 L206.6,473.0 L209.0,471.4 L211.4,469.8 L213.8,468.2 L216.2,466.6 L218.6,465.1 L221.1,463.6 L223.5,462.1 L226.0,460.6 L228.4,459.1 L230.9,457.7 L233.4,456.2 L235.9,454.8 L238.4,453.3 L241.0,451.9 L243.5,450.5 L246.0,449.1 L248.6,447.7 L251.1,446.4 L253.7,445.0 L256.2,443.6 L258.8,442.3 L261.4,440.9 L264.0,439.6 L266.5,438.2 L269.1,436.9 L271.7,435.6 L274.3,434.3 L276.9,432.9 L279.5,431.6 L282.1,430.3 L284.7,429.0 L287.3,427.7 L289.9,426.3 L292.5,425.0 L295.1,423.7 L297.7,422.4 L300.3,421.1 L302.9,419.7 L305.4,418.4 L308.0,417.1 L310.6,415.7 L313.2,414.4 L315.7,413.0 L318.3,411.6 L320.9,410.3 L323.4,408.9 L326.0,407.5 L328.5,406.1 L331.0,404.7 L333.6,403.3 L336.1,401.9 L338.6,400.4 L341.1,399.0 L343.6,397.5 L346.0,396.0 L348.5,394.5 L351.0,393.0 L353.4,391.5 L355.8,390.0 L358.3,388.4 L360.7,386.8 L363.1,385.2 L365.4,383.6 L367.8,382.0 L370.2,380.3 L372.5,378.7 L374.8,377.0 L377.1,375.3 L379.4,373.5 L381.7,371.8 L383.9,370.0 L386.2,368.2 L388.4,366.4 L390.6,364.5 L391.4,365.3 L391.0,368.3 L390.5,371.4 L389.9,374.4 L389.3,377.4 L388.5,380.3 L387.7,383.3 L386.9,386.2 L385.9,389.1 L385.0,392.0 L383.9,394.9 L382.9,397.8 L381.8,400.7 L380.6,403.5 L379.4,406.4 L378.2,409.2 L376.9,412.0 L375.6,414.8 L374.3,417.6 L372.9,420.4 L371.5,423.2 L370.0,425.9 L368.5,428.6 L367.0,431.3 L365.4,434.0 L363.8,436.6 L362.1,439.2 L360.5,441.8 L358.7,444.3 L357.0,446.9 L355.2,449.4 L353.3,451.8 L351.4,454.2 L349.5,456.6 L347.5,458.9 L345.5,461.2 L343.4,463.5 L341.3,465.7 L339.2,467.8 L337.0,469.9 L334.7,472.0 L332.4,474.0 L330.0,476.0 L327.6,477.9 L325.2,479.8 L322.8,481.6 L320.3,483.5 L317.8,485.3 L315.3,487.1 L312.8,488.9 L310.3,490.7 L307.8,492.4 L305.2,494.2 L302.7,495.9 L300.1,497.7 L297.6,499.4 L295.0,501.1 L292.5,502.8 L289.9,504.6 L287.3,506.2 L284.8,507.9 L282.2,509.6 L279.6,511.3 L277.0,512.9 L274.4,514.5 L271.7,516.2 L269.1,517.8 L266.5,519.4 L263.9,521.0 L261.2,522.6 L258.6,524.2 L255.9,525.8 L253.3,527.3 L250.6,528.9 L247.9,530.4 L245.3,532.0 L242.6,533.5 L239.9,535.0 L237.2,536.5 L234.5,538.0 L231.8,539.5 L229.1,541.0 L226.4,542.4 L223.7,543.9 L220.9,545.4 L218.2,546.8 L215.5,548.2 L212.7,549.6 L210.0,551.0 L207.2,552.4 L204.4,553.7 L201.6,554.9 L198.8,556.1 L196.0,557.3 L193.2,558.3 L190.3,559.3 L187.4,560.2 L184.5,561.1 L181.5,561.8 L178.6,562.4 L175.6,562.9 L172.5,563.4 L169.5,563.7 L166.4,563.8 L163.4,563.8 L160.3,563.8 L157.2,563.8 L154.1,563.8 L150.9,563.8 L147.8,563.8 L144.7,563.8 L141.6,563.8 L138.5,563.8 L135.3,563.8 L132.2,563.8 L129.2,563.8 L126.1,563.7 L123.0,563.7 L120.0,563.7 L117.0,563.7" fill="none" stroke="#000000" stroke-width="3.3" stroke-linejoin="round" stroke-linecap="round"/>
<path d="M117.8,563.8 L120.4,563.8 L122.9,563.0 L125.1,561.7 L127.3,560.1 L129.3,558.4 L131.2,556.6 L133.0,554.6 L134.7,552.5 L136.4,550.3 L138.0,548.0 L139.5,545.7 L141.0,543.3 L142.6,540.9 L144.1,538.5 L145.6,536.1 L147.1,533.7 L148.7,531.4 L150.3,529.1 L152.0,526.8 L153.7,524.6 L155.5,522.5 L157.4,520.4 L159.3,518.3 L161.2,516.4 L163.2,514.4 L165.2,512.5 L167.3,510.7 L169.4,508.9 L171.5,507.1 L173.6,505.3 L175.8,503.6 L178.0,501.9 L180.2,500.3 L182.5,498.6 L184.7,497.0 L187.0,495.4 L189.3,493.8 L191.6,492.2 L193.9,490.7 L196.2,489.2 L198.5,487.6 L200.8,486.1 L203.2,484.7 L205.6,483.2 L207.9,481.7 L210.3,480.3 L212.7,478.9 L215.1,477.4 L217.5,476.0 L219.9,474.6 L222.4,473.3 L224.8,471.9 L227.3,470.5 L229.7,469.2 L232.2,467.8 L234.6,466.5 L237.1,465.2 L239.6,463.9 L242.1,462.6 L244.6,461.3 L247.1,460.0 L249.6,458.7 L252.1,457.4 L254.6,456.1 L257.1,454.9 L259.6,453.6 L262.1,452.3 L264.7,451.1 L267.2,449.8 L269.7,448.6 L272.2,447.3 L274.8,446.1 L277.3,444.8 L279.8,443.6 L282.4,442.4 L284.9,441.1 L287.4,439.9 L290.0,438.6 L292.5,437.4 L295.0,436.1 L297.5,434.9 L300.1,433.6 L302.6,432.4 L305.1,431.1 L307.6,429.8 L310.1,428.6 L312.7,427.3 L315.2,426.0 L317.7,424.7 L320.2,423.4 L322.6,422.1 L325.1,420.8 L327.6,419.5 L330.1,418.2 L332.6,416.8 L335.0,415.5 L337.5,414.1 L339.9,412.8 L342.3,411.4 L344.8,410.0 L347.2,408.6 L349.6,407.2 L352.0,405.8 L354.4,404.3 L356.8,402.9 L359.2,401.4 L361.5,399.9 L363.9,398.4 L366.2,396.9 L368.5,395.4 L370.9,393.9 L373.2,392.3 L375.5,390.7 L377.7,389.1 L380.0,387.5 L382.3,385.9 L384.5,384.2 L386.7,382.5 L388.9,380.9 L389.5,381.5 L389.1,384.4 L388.7,387.2 L388.2,390.1 L387.6,392.9 L386.9,395.8 L386.2,398.6 L385.4,401.4 L384.5,404.2 L383.6,407.0 L382.6,409.8 L381.5,412.5 L380.4,415.3 L379.3,418.0 L378.1,420.8 L376.8,423.5 L375.5,426.1 L374.2,428.8 L372.8,431.5 L371.4,434.1 L369.9,436.6 L368.3,439.2 L366.7,441.6 L365.1,444.1 L363.4,446.5 L361.6,448.8 L359.8,451.1 L357.9,453.3 L356.0,455.5 L354.0,457.6 L352.0,459.7 L349.9,461.8 L347.8,463.8 L345.7,465.8 L343.5,467.8 L341.3,469.7 L339.0,471.6 L336.8,473.5 L334.5,475.3 L332.2,477.1 L329.8,478.9 L327.5,480.7 L325.1,482.5 L322.7,484.2 L320.3,485.9 L317.9,487.7 L315.5,489.4 L313.1,491.1 L310.7,492.7 L308.3,494.4 L305.8,496.1 L303.4,497.7 L301.0,499.3 L298.5,500.9 L296.0,502.6 L293.6,504.2 L291.1,505.8 L288.6,507.3 L286.1,508.9 L283.6,510.5 L281.1,512.0 L278.6,513.6 L276.1,515.1 L273.6,516.6 L271.1,518.1 L268.5,519.6 L266.0,521.1 L263.5,522.6 L260.9,524.1 L258.4,525.6 L255.8,527.1 L253.3,528.5 L250.7,530.0 L248.1,531.5 L245.6,532.9 L243.0,534.3 L240.4,535.8 L237.8,537.2 L235.2,538.6 L232.7,540.1 L230.1,541.5 L227.5,542.9 L224.9,544.3 L222.3,545.7 L219.7,547.1 L217.0,548.5 L214.4,549.8 L211.8,551.2 L209.2,552.5 L206.5,553.8 L203.8,555.0 L201.2,556.2 L198.5,557.3 L195.8,558.3 L193.0,559.3 L190.3,560.2 L187.5,561.0 L184.7,561.7 L181.8,562.3 L179.0,562.8 L176.1,563.2 L173.2,563.5 L170.2,563.8 L167.3,563.8 L164.3,563.8 L161.3,563.8 L158.3,563.8 L155.3,563.8 L152.3,563.8 L149.3,563.8 L146.3,563.8 L143.3,563.7 L140.4,563.6 L137.4,563.5 L134.4,563.4 L131.5,563.4 L128.6,563.4 L125.7,563.4 L122.8,563.5 L120.0,563.7" fill="none" stroke="#e61414" stroke-width="3.3" stroke-linejoin="round" stroke-linecap="round"/>
<line x1="101.4" y1="347.9" x2="132.2" y2="347.9" stroke="#000000" stroke-width="2.9"/>
<text x="140" y="353.1" font-size="18.5" text-anchor="start" font-weight="normal" fill="#000">1st stretch</text>
<line x1="101.4" y1="366.55" x2="132.2" y2="366.55" stroke="#5a14b4" stroke-width="2.9"/>
<text x="140" y="371.75" font-size="18.5" text-anchor="start" font-weight="normal" fill="#000">5 s</text>
<line x1="101.4" y1="385.2" x2="132.2" y2="385.2" stroke="#1438dc" stroke-width="2.9"/>
<text x="140" y="390.4" font-size="18.5" text-anchor="start" font-weight="normal" fill="#000">30 s</text>
<line x1="101.4" y1="403.85" x2="132.2" y2="403.85" stroke="#28e6f0" stroke-width="2.9"/>
<text x="140" y="409.05" font-size="18.5" text-anchor="start" font-weight="normal" fill="#000">1 min</text>
<line x1="101.4" y1="422.5" x2="132.2" y2="422.5" stroke="#0a8214" stroke-width="2.9"/>
<text x="140" y="427.7" font-size="18.5" text-anchor="start" font-weight="normal" fill="#000">4 min</text>
<line x1="101.4" y1="441.15" x2="132.2" y2="441.15" stroke="#c8821e" stroke-width="2.9"/>
<text x="140" y="446.35" font-size="18.5" text-anchor="start" font-weight="normal" fill="#000">12 min</text>
<line x1="101.4" y1="459.8" x2="132.2" y2="459.8" stroke="#e61414" stroke-width="2.9"/>
<text x="140" y="465" font-size="18.5" text-anchor="start" font-weight="normal" fill="#000">20 min</text>
<line x1="584.2" y1="355.3" x2="584.2" y2="571.6" stroke="#000" stroke-width="1.8"/>
<line x1="583.3" y1="570.7" x2="921.7" y2="570.7" stroke="#000" stroke-width="1.8"/>
<line x1="570.3" y1="564.2" x2="584.2" y2="564.2" stroke="#000" stroke-width="1.8"/>
<text x="563.1" y="571.1" font-size="21" text-anchor="end" font-weight="normal" fill="#000">0</text>
<line x1="570.3" y1="522.6" x2="584.2" y2="522.6" stroke="#000" stroke-width="1.8"/>
<text x="563.1" y="529.5" font-size="21" text-anchor="end" font-weight="normal" fill="#000">20</text>
<line x1="570.3" y1="481" x2="584.2" y2="481" stroke="#000" stroke-width="1.8"/>
<text x="563.1" y="487.9" font-size="21" text-anchor="end" font-weight="normal" fill="#000">40</text>
<line x1="570.3" y1="439.4" x2="584.2" y2="439.4" stroke="#000" stroke-width="1.8"/>
<text x="563.1" y="446.3" font-size="21" text-anchor="end" font-weight="normal" fill="#000">60</text>
<line x1="570.3" y1="397.8" x2="584.2" y2="397.8" stroke="#000" stroke-width="1.8"/>
<text x="563.1" y="404.7" font-size="21" text-anchor="end" font-weight="normal" fill="#000">80</text>
<line x1="570.3" y1="356.2" x2="584.2" y2="356.2" stroke="#000" stroke-width="1.8"/>
<text x="563.1" y="363.1" font-size="21" text-anchor="end" font-weight="normal" fill="#000">100</text>
<line x1="591" y1="570.7" x2="591" y2="584.5" stroke="#000" stroke-width="1.8"/>
<text x="591" y="613.1" font-size="21" text-anchor="middle" font-weight="normal" fill="#000">0</text>
<line x1="683.1" y1="570.7" x2="683.1" y2="584.5" stroke="#000" stroke-width="1.8"/>
<text x="683.1" y="613.1" font-size="21" text-anchor="middle" font-weight="normal" fill="#000">4</text>
<line x1="775.2" y1="570.7" x2="775.2" y2="584.5" stroke="#000" stroke-width="1.8"/>
<text x="775.2" y="613.1" font-size="21" text-anchor="middle" font-weight="normal" fill="#000">8</text>
<line x1="867.3" y1="570.7" x2="867.3" y2="584.5" stroke="#000" stroke-width="1.8"/>
<text x="867.3" y="613.1" font-size="21" text-anchor="middle" font-weight="normal" fill="#000">12</text>
<line x1="637.05" y1="570.7" x2="637.05" y2="578.6" stroke="#000" stroke-width="1.8"/>
<line x1="729.15" y1="570.7" x2="729.15" y2="578.6" stroke="#000" stroke-width="1.8"/>
<line x1="821.25" y1="570.7" x2="821.25" y2="578.6" stroke="#000" stroke-width="1.8"/>
<line x1="913.35" y1="570.7" x2="913.35" y2="578.6" stroke="#000" stroke-width="1.8"/>
<text x="902.6" y="612" font-size="21" text-anchor="start" font-weight="normal" fill="#000">x10</text>
<text x="936.3" y="605.8" font-size="15.5" text-anchor="start" font-weight="normal" fill="#000">3</text>
<text x="752.5" y="641.8" font-size="21" text-anchor="middle" font-weight="normal" fill="#000">Time (s)</text>
<text x="488.6" y="522.8" font-size="21" text-anchor="start" font-weight="normal" fill="#000" transform="rotate(-90 488.6 522.8)">Hysteresis</text>
<text x="513.5" y="522.8" font-size="21" text-anchor="start" font-weight="normal" fill="#000" transform="rotate(-90 513.5 522.8)">recovery (%)</text>
<text x="473" y="337.8" font-size="26" text-anchor="start" font-weight="bold" fill="#000">d</text>
<path d="M591.5,454.5 L591.6,450.5 L591.7,446.5 L591.8,442.5 L591.9,438.5 L592.1,435.0 L592.6,423.0 L594.3,422.8 L596.5,401.1 L601.9,385.9 L607.6,383.8 L613.5,386.5 L618.9,380.5 L632.7,378.1 L674.0,366.5 L922.0,356.4" fill="none" stroke="#000" stroke-width="3.0" stroke-linejoin="round" stroke-linecap="round"/>
<rect x="588.1" y="451.1" width="6.8" height="6.8" fill="none" stroke="#222" stroke-width="1.2"/>
<rect x="588.2" y="447.1" width="6.8" height="6.8" fill="none" stroke="#222" stroke-width="1.2"/>
<rect x="588.3" y="443.1" width="6.8" height="6.8" fill="none" stroke="#222" stroke-width="1.2"/>
<rect x="588.4" y="439.1" width="6.8" height="6.8" fill="none" stroke="#222" stroke-width="1.2"/>
<rect x="588.5" y="435.1" width="6.8" height="6.8" fill="none" stroke="#222" stroke-width="1.2"/>
<rect x="588.7" y="431.6" width="6.8" height="6.8" fill="none" stroke="#222" stroke-width="1.2"/>
<rect x="589.2" y="419.6" width="6.8" height="6.8" fill="none" stroke="#222" stroke-width="1.2"/>
<rect x="590.9" y="419.4" width="6.8" height="6.8" fill="none" stroke="#222" stroke-width="1.2"/>
<rect x="593.1" y="397.7" width="6.8" height="6.8" fill="none" stroke="#222" stroke-width="1.2"/>
<rect x="598.5" y="382.5" width="6.8" height="6.8" fill="none" stroke="#222" stroke-width="1.2"/>
<rect x="604.2" y="380.4" width="6.8" height="6.8" fill="none" stroke="#222" stroke-width="1.2"/>
<rect x="610.1" y="383.1" width="6.8" height="6.8" fill="none" stroke="#222" stroke-width="1.2"/>
<rect x="615.5" y="377.1" width="6.8" height="6.8" fill="none" stroke="#222" stroke-width="1.2"/>
<rect x="629.3" y="374.7" width="6.8" height="6.8" fill="none" stroke="#222" stroke-width="1.2"/>
<rect x="670.6" y="363.1" width="6.8" height="6.8" fill="none" stroke="#222" stroke-width="1.2"/>
<rect x="918.6" y="353.0" width="6.8" height="6.8" fill="none" stroke="#222" stroke-width="1.2"/>
<line x1="377.7" y1="694.3" x2="377.7" y2="897.1" stroke="#000" stroke-width="1.8"/>
<line x1="376.8" y1="896.2" x2="790" y2="896.2" stroke="#000" stroke-width="1.8"/>
<line x1="363.6" y1="885.2" x2="377.7" y2="885.2" stroke="#000" stroke-width="1.8"/>
<text x="356.4" y="892.1" font-size="21" text-anchor="end" font-weight="normal" fill="#000">0.0</text>
<line x1="363.6" y1="851.6" x2="377.7" y2="851.6" stroke="#000" stroke-width="1.8"/>
<text x="356.4" y="858.5" font-size="21" text-anchor="end" font-weight="normal" fill="#000">0.5</text>
<line x1="363.6" y1="818" x2="377.7" y2="818" stroke="#000" stroke-width="1.8"/>
<text x="356.4" y="824.9" font-size="21" text-anchor="end" font-weight="normal" fill="#000">1.0</text>
<line x1="363.6" y1="784.4" x2="377.7" y2="784.4" stroke="#000" stroke-width="1.8"/>
<text x="356.4" y="791.3" font-size="21" text-anchor="end" font-weight="normal" fill="#000">1.5</text>
<line x1="363.6" y1="750.8" x2="377.7" y2="750.8" stroke="#000" stroke-width="1.8"/>
<text x="356.4" y="757.7" font-size="21" text-anchor="end" font-weight="normal" fill="#000">2.0</text>
<line x1="363.6" y1="717.2" x2="377.7" y2="717.2" stroke="#000" stroke-width="1.8"/>
<text x="356.4" y="724.1" font-size="21" text-anchor="end" font-weight="normal" fill="#000">2.5</text>
<line x1="380.2" y1="896.2" x2="380.2" y2="910" stroke="#000" stroke-width="1.8"/>
<text x="380.2" y="933.4" font-size="21" text-anchor="middle" font-weight="normal" fill="#000">0</text>
<line x1="475.2" y1="896.2" x2="475.2" y2="910" stroke="#000" stroke-width="1.8"/>
<text x="475.2" y="933.4" font-size="21" text-anchor="middle" font-weight="normal" fill="#000">50</text>
<line x1="570.2" y1="896.2" x2="570.2" y2="910" stroke="#000" stroke-width="1.8"/>
<text x="570.2" y="933.4" font-size="21" text-anchor="middle" font-weight="normal" fill="#000">100</text>
<line x1="665.2" y1="896.2" x2="665.2" y2="910" stroke="#000" stroke-width="1.8"/>
<text x="665.2" y="933.4" font-size="21" text-anchor="middle" font-weight="normal" fill="#000">150</text>
<line x1="760.2" y1="896.2" x2="760.2" y2="910" stroke="#000" stroke-width="1.8"/>
<text x="760.2" y="933.4" font-size="21" text-anchor="middle" font-weight="normal" fill="#000">200</text>
<text x="583.5" y="961.7" font-size="21" text-anchor="middle" font-weight="normal" fill="#000">Strain (%)</text>
<text x="309.6" y="794.5" font-size="21" text-anchor="middle" font-weight="normal" fill="#000" transform="rotate(-90 309.6 794.5)">Stress (kPa)</text>
<text x="293.4" y="695" font-size="26" text-anchor="start" font-weight="bold" fill="#000">e</text>
<text x="398.4" y="695.5" font-size="21" text-anchor="start" font-weight="normal" fill="#000">Final strain (%)</text>
<path d="M380.2,883.9 L380.7,883.7 L381.2,883.7 L381.7,883.6 L382.2,883.6 L382.7,883.5 L383.1,883.5 L383.6,883.5 L384.1,883.4 L384.6,883.4 L385.1,883.3 L385.6,883.3 L386.1,883.3 L386.6,883.2 L387.1,883.2 L387.6,883.1 L388.1,883.1 L388.5,883.0 L389.0,883.0 L389.5,882.9 L390.0,882.9 L390.5,882.8 L391.0,882.8 L391.5,882.7 L392.0,882.7 L392.5,882.6 L393.0,882.6 L393.5,882.5 L393.9,882.4 L394.4,882.4 L394.9,882.3 L395.4,882.3 L395.9,882.2 L396.4,882.2 L396.9,882.1 L397.4,882.1 L397.9,882.0 L398.4,881.9 L398.9,881.9 L399.3,881.8 L399.8,881.8 L400.3,881.7 L400.8,881.6 L401.3,881.6 L401.8,881.5 L402.3,881.4 L402.8,881.3 L403.3,881.3 L403.8,881.2 L404.3,881.1 L404.8,881.0 L405.2,880.9 L405.7,880.8 L406.2,880.7 L406.7,880.6 L407.2,880.5 L407.7,880.4 L408.2,880.3 L408.7,880.2 L409.2,880.1 L409.7,880.0 L410.2,879.9 L410.6,879.8 L411.1,879.6 L411.6,879.5 L412.1,879.4 L412.6,879.3 L413.1,879.2 L413.6,879.1 L414.1,879.0 L414.6,878.9 L415.1,878.7 L415.6,878.6 L416.0,878.5 L416.5,878.4 L417.0,878.3 L417.5,878.2 L418.0,878.1 L418.5,878.0 L419.0,877.9 L419.5,877.8 L420.0,877.7 L420.5,877.6 L421.0,877.5 L421.4,877.4 L421.9,877.3 L422.4,877.2 L422.9,877.1 L423.4,877.0 L423.9,877.0 L423.9,877.0 L423.4,877.1 L422.9,877.2 L422.4,877.3 L421.9,877.4 L421.4,877.6 L421.0,877.7 L420.5,877.8 L420.0,877.9 L419.5,878.0 L419.0,878.1 L418.5,878.2 L418.0,878.4 L417.5,878.5 L417.0,878.6 L416.5,878.7 L416.0,878.8 L415.6,878.9 L415.1,879.1 L414.6,879.2 L414.1,879.3 L413.6,879.4 L413.1,879.5 L412.6,879.6 L412.1,879.8 L411.6,879.9 L411.1,880.0 L410.6,880.1 L410.2,880.2 L409.7,880.3 L409.2,880.5 L408.7,880.6 L408.2,880.7 L407.7,880.8 L407.2,880.9 L406.7,881.0 L406.2,881.1 L405.7,881.2 L405.2,881.3 L404.8,881.4 L404.3,881.5 L403.8,881.6 L403.3,881.7 L402.8,881.7 L402.3,881.8 L401.8,881.9 L401.3,882.0 L400.8,882.0 L400.3,882.1 L399.8,882.2 L399.3,882.2 L398.9,882.3 L398.4,882.3 L397.9,882.4 L397.4,882.4 L396.9,882.5 L396.4,882.5 L395.9,882.6 L395.4,882.7 L394.9,882.7 L394.4,882.8 L393.9,882.8 L393.5,882.9 L393.0,882.9 L392.5,883.0 L392.0,883.0 L391.5,883.1 L391.0,883.1 L390.5,883.1 L390.0,883.2 L389.5,883.2 L389.0,883.3 L388.5,883.3 L388.1,883.4 L387.6,883.4 L387.1,883.4 L386.6,883.5 L386.1,883.5 L385.6,883.5 L385.1,883.6 L384.6,883.6 L384.1,883.6 L383.6,883.7 L383.1,883.7 L382.7,883.7 L382.2,883.7 L381.7,883.8 L381.2,883.8 L380.7,883.8 L380.2,883.9" fill="none" stroke="#e61e1e" stroke-width="2.0" stroke-linejoin="round" stroke-linecap="round"/>
<path d="M380.2,883.9 L381.5,883.7 L382.8,883.6 L384.2,883.4 L385.5,883.3 L386.8,883.2 L388.1,883.1 L389.5,883.0 L390.8,882.8 L392.1,882.7 L393.4,882.5 L394.8,882.4 L396.1,882.2 L397.4,882.0 L398.7,881.9 L400.1,881.7 L401.4,881.5 L402.7,881.3 L404.0,881.0 L405.3,880.8 L406.7,880.5 L408.0,880.2 L409.3,879.8 L410.6,879.5 L412.0,879.2 L413.3,878.8 L414.6,878.5 L415.9,878.1 L417.3,877.8 L418.6,877.5 L419.9,877.1 L421.2,876.8 L422.6,876.4 L423.9,876.1 L425.2,875.7 L426.5,875.3 L427.8,874.9 L429.2,874.6 L430.5,874.2 L431.8,873.8 L433.1,873.4 L434.5,873.0 L435.8,872.5 L437.1,872.1 L438.4,871.7 L439.8,871.3 L441.1,870.8 L442.4,870.4 L443.7,869.9 L445.1,869.4 L446.4,868.9 L447.7,868.5 L449.0,868.0 L450.4,867.5 L451.7,867.0 L453.0,866.5 L454.3,866.0 L455.6,865.5 L457.0,865.0 L458.3,864.4 L459.6,863.9 L460.9,863.4 L462.3,862.9 L463.6,862.4 L464.9,861.9 L466.2,861.4 L467.6,860.9 L468.9,860.4 L470.2,859.9 L471.5,859.4 L472.9,858.9 L474.2,858.4 L475.5,857.9 L476.8,857.4 L478.1,856.9 L479.5,856.4 L480.8,855.9 L482.1,855.4 L483.4,854.9 L484.8,854.4 L486.1,853.9 L487.4,853.4 L488.7,852.9 L490.1,852.5 L491.4,852.0 L492.7,851.5 L494.0,851.0 L495.4,850.5 L496.7,850.1 L498.0,849.8 L498.0,849.8 L496.7,850.2 L495.4,850.7 L494.0,851.2 L492.7,851.7 L491.4,852.2 L490.1,852.7 L488.7,853.2 L487.4,853.8 L486.1,854.3 L484.8,854.8 L483.4,855.3 L482.1,855.8 L480.8,856.3 L479.5,856.8 L478.1,857.4 L476.8,857.9 L475.5,858.4 L474.2,858.9 L472.9,859.4 L471.5,859.9 L470.2,860.4 L468.9,860.9 L467.6,861.4 L466.2,861.9 L464.9,862.4 L463.6,862.9 L462.3,863.5 L460.9,864.0 L459.6,864.5 L458.3,865.0 L457.0,865.5 L455.6,866.0 L454.3,866.6 L453.0,867.1 L451.7,867.6 L450.4,868.1 L449.0,868.6 L447.7,869.1 L446.4,869.5 L445.1,870.0 L443.7,870.5 L442.4,871.0 L441.1,871.4 L439.8,871.9 L438.4,872.3 L437.1,872.7 L435.8,873.1 L434.5,873.6 L433.1,874.0 L431.8,874.4 L430.5,874.8 L429.2,875.2 L427.8,875.5 L426.5,875.9 L425.2,876.3 L423.9,876.6 L422.6,877.0 L421.2,877.3 L419.9,877.7 L418.6,878.0 L417.3,878.3 L415.9,878.7 L414.6,879.0 L413.3,879.3 L412.0,879.7 L410.6,880.0 L409.3,880.3 L408.0,880.6 L406.7,880.9 L405.3,881.2 L404.0,881.5 L402.7,881.7 L401.4,881.9 L400.1,882.1 L398.7,882.3 L397.4,882.4 L396.1,882.6 L394.8,882.7 L393.4,882.9 L392.1,883.0 L390.8,883.1 L389.5,883.3 L388.1,883.4 L386.8,883.5 L385.5,883.6 L384.2,883.6 L382.8,883.7 L381.5,883.8 L380.2,883.9" fill="none" stroke="#8f6420" stroke-width="2.0" stroke-linejoin="round" stroke-linecap="round"/>
<path d="M380.2,883.9 L382.3,883.5 L384.5,883.3 L386.6,883.1 L388.7,882.9 L390.9,882.6 L393.0,882.4 L395.1,882.1 L397.3,881.8 L399.4,881.5 L401.5,881.2 L403.7,880.8 L405.8,880.4 L408.0,879.9 L410.1,879.3 L412.2,878.8 L414.4,878.2 L416.5,877.6 L418.6,877.1 L420.8,876.5 L422.9,875.9 L425.0,875.3 L427.2,874.7 L429.3,874.1 L431.4,873.4 L433.6,872.8 L435.7,872.1 L437.8,871.4 L440.0,870.7 L442.1,869.9 L444.2,869.1 L446.4,868.4 L448.5,867.6 L450.6,866.7 L452.8,865.9 L454.9,865.1 L457.1,864.2 L459.2,863.4 L461.3,862.5 L463.5,861.7 L465.6,860.9 L467.7,860.0 L469.9,859.2 L472.0,858.4 L474.1,857.5 L476.3,856.7 L478.4,855.9 L480.5,855.0 L482.7,854.2 L484.8,853.3 L486.9,852.5 L489.1,851.6 L491.2,850.8 L493.3,850.0 L495.5,849.1 L497.6,848.3 L499.8,847.5 L501.9,846.7 L504.0,845.9 L506.2,845.1 L508.3,844.3 L510.4,843.5 L512.6,842.7 L514.7,841.9 L516.8,841.2 L519.0,840.4 L521.1,839.6 L523.2,838.9 L525.4,838.1 L527.5,837.3 L529.6,836.6 L531.8,835.8 L533.9,835.0 L536.0,834.2 L538.2,833.4 L540.3,832.6 L542.4,831.9 L544.6,831.1 L546.7,830.3 L548.9,829.5 L551.0,828.7 L553.1,827.9 L555.3,827.1 L557.4,826.3 L559.5,825.6 L561.7,824.8 L563.8,824.0 L565.9,823.2 L568.1,822.5 L570.2,821.9 L570.2,821.9 L568.1,822.7 L565.9,823.5 L563.8,824.3 L561.7,825.2 L559.5,826.0 L557.4,826.8 L555.3,827.6 L553.1,828.4 L551.0,829.3 L548.9,830.1 L546.7,830.9 L544.6,831.7 L542.4,832.5 L540.3,833.3 L538.2,834.2 L536.0,835.0 L533.9,835.8 L531.8,836.6 L529.6,837.4 L527.5,838.2 L525.4,838.9 L523.2,839.7 L521.1,840.5 L519.0,841.3 L516.8,842.1 L514.7,842.8 L512.6,843.6 L510.4,844.4 L508.3,845.2 L506.2,846.0 L504.0,846.8 L501.9,847.6 L499.8,848.5 L497.6,849.3 L495.5,850.1 L493.3,851.0 L491.2,851.8 L489.1,852.6 L486.9,853.5 L484.8,854.3 L482.7,855.2 L480.5,856.0 L478.4,856.9 L476.3,857.7 L474.1,858.5 L472.0,859.4 L469.9,860.2 L467.7,861.0 L465.6,861.9 L463.5,862.7 L461.3,863.5 L459.2,864.4 L457.1,865.2 L454.9,866.1 L452.8,866.9 L450.6,867.7 L448.5,868.5 L446.4,869.3 L444.2,870.1 L442.1,870.8 L440.0,871.6 L437.8,872.3 L435.7,873.0 L433.6,873.6 L431.4,874.3 L429.3,874.9 L427.2,875.6 L425.0,876.2 L422.9,876.7 L420.8,877.3 L418.6,877.9 L416.5,878.4 L414.4,878.9 L412.2,879.5 L410.1,880.0 L408.0,880.5 L405.8,881.0 L403.7,881.4 L401.5,881.8 L399.4,882.1 L397.3,882.4 L395.1,882.6 L393.0,882.8 L390.9,883.1 L388.7,883.3 L386.6,883.4 L384.5,883.6 L382.3,883.7 L380.2,883.9" fill="none" stroke="#1ec81e" stroke-width="2.0" stroke-linejoin="round" stroke-linecap="round"/>
<path d="M380.2,883.9 L383.1,883.4 L386.1,883.1 L389.0,882.7 L392.0,882.4 L394.9,882.0 L397.9,881.6 L400.8,881.2 L403.8,880.6 L406.7,879.9 L409.7,879.2 L412.6,878.4 L415.6,877.6 L418.5,876.8 L421.4,876.0 L424.4,875.2 L427.3,874.4 L430.3,873.5 L433.2,872.5 L436.2,871.6 L439.1,870.6 L442.1,869.6 L445.0,868.5 L448.0,867.4 L450.9,866.2 L453.9,865.1 L456.8,863.9 L459.7,862.7 L462.7,861.5 L465.6,860.3 L468.6,859.2 L471.5,858.0 L474.5,856.8 L477.4,855.7 L480.4,854.5 L483.3,853.3 L486.3,852.1 L489.2,850.9 L492.2,849.8 L495.1,848.6 L498.0,847.4 L501.0,846.3 L503.9,845.1 L506.9,844.0 L509.8,842.9 L512.8,841.8 L515.7,840.7 L518.7,839.6 L521.6,838.5 L524.6,837.5 L527.5,836.4 L530.4,835.3 L533.4,834.2 L536.3,833.0 L539.3,831.9 L542.2,830.8 L545.2,829.7 L548.1,828.5 L551.1,827.4 L554.0,826.3 L557.0,825.1 L559.9,824.0 L562.9,822.8 L565.8,821.6 L568.7,820.5 L571.7,819.3 L574.6,818.1 L577.6,816.9 L580.5,815.7 L583.5,814.5 L586.4,813.3 L589.4,812.1 L592.3,810.8 L595.3,809.6 L598.2,808.3 L601.2,807.1 L604.1,805.8 L607.0,804.5 L610.0,803.2 L612.9,801.8 L615.9,800.5 L618.8,799.1 L621.8,797.7 L624.7,796.3 L627.7,794.9 L630.6,793.4 L633.6,792.0 L636.5,790.6 L639.5,789.2 L642.4,788.1 L642.4,788.1 L639.5,789.5 L636.5,791.0 L633.6,792.5 L630.6,794.0 L627.7,795.5 L624.7,796.9 L621.8,798.4 L618.8,799.8 L615.9,801.3 L612.9,802.7 L610.0,804.0 L607.0,805.4 L604.1,806.7 L601.2,808.0 L598.2,809.3 L595.3,810.6 L592.3,811.9 L589.4,813.2 L586.4,814.4 L583.5,815.6 L580.5,816.9 L577.6,818.1 L574.6,819.3 L571.7,820.5 L568.7,821.7 L565.8,822.9 L562.9,824.1 L559.9,825.2 L557.0,826.4 L554.0,827.6 L551.1,828.7 L548.1,829.9 L545.2,831.0 L542.2,832.2 L539.3,833.3 L536.3,834.4 L533.4,835.5 L530.4,836.7 L527.5,837.8 L524.6,838.9 L521.6,839.9 L518.7,841.0 L515.7,842.1 L512.8,843.2 L509.8,844.3 L506.9,845.4 L503.9,846.5 L501.0,847.7 L498.0,848.8 L495.1,850.0 L492.2,851.2 L489.2,852.3 L486.3,853.5 L483.3,854.7 L480.4,855.9 L477.4,857.0 L474.5,858.2 L471.5,859.3 L468.6,860.5 L465.6,861.6 L462.7,862.8 L459.7,864.0 L456.8,865.1 L453.9,866.3 L450.9,867.4 L448.0,868.6 L445.0,869.7 L442.1,870.7 L439.1,871.7 L436.2,872.7 L433.2,873.6 L430.3,874.5 L427.3,875.4 L424.4,876.2 L421.4,877.0 L418.5,877.8 L415.6,878.5 L412.6,879.3 L409.7,880.0 L406.7,880.7 L403.8,881.4 L400.8,881.9 L397.9,882.2 L394.9,882.6 L392.0,882.9 L389.0,883.2 L386.1,883.4 L383.1,883.6 L380.2,883.9" fill="none" stroke="#0f5032" stroke-width="2.0" stroke-linejoin="round" stroke-linecap="round"/>
<path d="M380.2,883.9 L384.0,883.2 L387.7,882.7 L391.5,882.2 L395.2,881.7 L399.0,881.1 L402.7,880.5 L406.5,879.6 L410.3,878.7 L414.0,877.6 L417.8,876.6 L421.5,875.6 L425.3,874.5 L429.0,873.4 L432.8,872.2 L436.6,870.9 L440.3,869.6 L444.1,868.3 L447.8,866.8 L451.6,865.3 L455.3,863.8 L459.1,862.3 L462.9,860.8 L466.6,859.3 L470.4,857.8 L474.1,856.3 L477.9,854.7 L481.6,853.2 L485.4,851.7 L489.2,850.2 L492.9,848.6 L496.7,847.1 L500.4,845.6 L504.2,844.2 L507.9,842.7 L511.7,841.3 L515.5,839.9 L519.2,838.5 L523.0,837.1 L526.7,835.7 L530.5,834.2 L534.2,832.8 L538.0,831.3 L541.8,829.9 L545.5,828.4 L549.3,827.0 L553.0,825.5 L556.8,824.0 L560.6,822.5 L564.3,821.0 L568.1,819.5 L571.8,818.0 L575.6,816.4 L579.3,814.9 L583.1,813.3 L586.9,811.7 L590.6,810.1 L594.4,808.5 L598.1,806.9 L601.9,805.2 L605.6,803.5 L609.4,801.8 L613.2,800.1 L616.9,798.3 L620.7,796.5 L624.4,794.6 L628.2,792.7 L631.9,790.8 L635.7,788.9 L639.5,787.0 L643.2,785.0 L647.0,783.0 L650.7,781.0 L654.5,778.9 L658.2,776.9 L662.0,774.8 L665.8,772.7 L669.5,770.6 L673.3,768.5 L677.0,766.4 L680.8,764.3 L684.5,762.2 L688.3,760.1 L692.1,758.0 L695.8,755.9 L699.6,753.8 L703.3,751.7 L707.1,749.6 L710.8,747.6 L714.6,745.9 L714.6,745.9 L710.8,748.0 L707.1,750.2 L703.3,752.4 L699.6,754.6 L695.8,756.8 L692.1,759.0 L688.3,761.1 L684.5,763.3 L680.8,765.5 L677.0,767.6 L673.3,769.7 L669.5,771.9 L665.8,774.0 L662.0,776.2 L658.2,778.3 L654.5,780.4 L650.7,782.5 L647.0,784.6 L643.2,786.6 L639.5,788.6 L635.7,790.6 L631.9,792.5 L628.2,794.4 L624.4,796.4 L620.7,798.2 L616.9,800.1 L613.2,801.9 L609.4,803.7 L605.6,805.4 L601.9,807.1 L598.1,808.8 L594.4,810.4 L590.6,812.1 L586.9,813.7 L583.1,815.3 L579.3,816.8 L575.6,818.4 L571.8,820.0 L568.1,821.5 L564.3,823.0 L560.6,824.5 L556.8,826.0 L553.0,827.5 L549.3,829.0 L545.5,830.4 L541.8,831.9 L538.0,833.4 L534.2,834.8 L530.5,836.2 L526.7,837.6 L523.0,839.0 L519.2,840.4 L515.5,841.8 L511.7,843.2 L507.9,844.7 L504.2,846.1 L500.4,847.6 L496.7,849.0 L492.9,850.5 L489.2,852.0 L485.4,853.5 L481.6,855.0 L477.9,856.5 L474.1,858.0 L470.4,859.5 L466.6,861.0 L462.9,862.5 L459.1,864.0 L455.3,865.5 L451.6,866.9 L447.8,868.4 L444.1,869.8 L440.3,871.1 L436.6,872.4 L432.8,873.5 L429.0,874.7 L425.3,875.8 L421.5,876.8 L417.8,877.8 L414.0,878.8 L410.3,879.7 L406.5,880.6 L402.7,881.4 L399.0,882.0 L395.2,882.4 L391.5,882.8 L387.7,883.2 L384.0,883.5 L380.2,883.9" fill="none" stroke="#28e1f0" stroke-width="2.0" stroke-linejoin="round" stroke-linecap="round"/>
<path d="M380.2,883.9 L384.8,883.7 L389.4,883.5 L394.0,883.1 L398.6,882.6 L403.1,882.0 L407.7,881.0 L412.3,879.9 L416.9,878.8 L421.5,877.7 L426.1,876.4 L430.7,875.1 L435.3,873.7 L439.9,872.2 L444.5,870.6 L449.0,869.0 L453.6,867.2 L458.2,865.4 L462.8,863.6 L467.4,861.8 L472.0,860.0 L476.6,858.3 L481.2,856.4 L485.8,854.6 L490.4,852.8 L494.9,851.0 L499.5,849.2 L504.1,847.4 L508.7,845.7 L513.3,844.0 L517.9,842.3 L522.5,840.6 L527.1,838.9 L531.7,837.1 L536.3,835.4 L540.8,833.6 L545.4,831.8 L550.0,830.0 L554.6,828.2 L559.2,826.4 L563.8,824.5 L568.4,822.7 L573.0,820.8 L577.6,818.9 L582.2,817.0 L586.7,815.0 L591.3,813.0 L595.9,811.0 L600.5,809.0 L605.1,806.9 L609.7,804.8 L614.3,802.6 L618.9,800.3 L623.5,798.0 L628.1,795.7 L632.6,793.3 L637.2,790.8 L641.8,788.4 L646.4,785.9 L651.0,783.3 L655.6,780.7 L660.2,778.1 L664.8,775.5 L669.4,772.8 L674.0,770.2 L678.5,767.5 L683.1,764.8 L687.7,762.1 L692.3,759.4 L696.9,756.7 L701.5,753.9 L706.1,751.2 L710.7,748.3 L715.3,745.5 L719.9,742.6 L724.4,739.7 L729.0,736.8 L733.6,733.8 L738.2,730.8 L742.8,727.8 L747.4,724.8 L752.0,721.8 L756.6,718.7 L761.2,715.7 L765.8,712.5 L770.3,709.4 L774.9,706.1 L779.5,702.8 L784.1,699.4 L788.7,695.8 L788.7,696.2 L784.1,701.9 L779.5,707.3 L774.9,712.2 L770.3,716.6 L765.8,720.7 L761.2,724.6 L756.6,728.3 L752.0,731.9 L747.4,735.4 L742.8,738.6 L738.2,741.6 L733.6,744.5 L729.0,747.4 L724.4,750.3 L719.9,753.2 L715.3,756.0 L710.7,758.8 L706.1,761.6 L701.5,764.3 L696.9,767.0 L692.3,769.7 L687.7,772.4 L683.1,775.0 L678.5,777.6 L674.0,780.2 L669.4,782.7 L664.8,785.2 L660.2,787.5 L655.6,789.8 L651.0,792.1 L646.4,794.3 L641.8,796.5 L637.2,798.8 L632.6,801.0 L628.1,803.2 L623.5,805.3 L618.9,807.4 L614.3,809.5 L609.7,811.5 L605.1,813.5 L600.5,815.4 L595.9,817.3 L591.3,819.1 L586.7,821.0 L582.2,822.8 L577.6,824.5 L573.0,826.3 L568.4,828.0 L563.8,829.8 L559.2,831.4 L554.6,833.1 L550.0,834.8 L545.4,836.5 L540.8,838.1 L536.3,839.8 L531.7,841.4 L527.1,843.0 L522.5,844.6 L517.9,846.1 L513.3,847.7 L508.7,849.3 L504.1,850.9 L499.5,852.6 L494.9,854.3 L490.4,855.9 L485.8,857.6 L481.2,859.3 L476.6,861.0 L472.0,862.6 L467.4,864.2 L462.8,865.9 L458.2,867.5 L453.6,869.1 L449.0,870.7 L444.5,872.2 L439.9,873.7 L435.3,875.0 L430.7,876.3 L426.1,877.5 L421.5,878.6 L416.9,879.6 L412.3,880.6 L407.7,881.6 L403.1,882.4 L398.6,882.9 L394.0,883.3 L389.4,883.6 L384.8,883.8 L380.2,883.9" fill="none" stroke="#1616c8" stroke-width="2.0" stroke-linejoin="round" stroke-linecap="round"/>
<line x1="401.3" y1="710.8" x2="435.5" y2="710.8" stroke="#e61e1e" stroke-width="1.9"/>
<text x="442" y="716.8" font-size="18.5" text-anchor="start" font-weight="normal" fill="#000">23</text>
<line x1="401.3" y1="731.75" x2="435.5" y2="731.75" stroke="#8f6420" stroke-width="1.9"/>
<text x="442" y="737.75" font-size="18.5" text-anchor="start" font-weight="normal" fill="#000">62</text>
<line x1="401.3" y1="752.7" x2="435.5" y2="752.7" stroke="#1ec81e" stroke-width="1.9"/>
<text x="442" y="758.7" font-size="18.5" text-anchor="start" font-weight="normal" fill="#000">100</text>
<line x1="401.3" y1="773.65" x2="435.5" y2="773.65" stroke="#0f5032" stroke-width="1.9"/>
<text x="442" y="779.65" font-size="18.5" text-anchor="start" font-weight="normal" fill="#000">138</text>
<line x1="401.3" y1="794.6" x2="435.5" y2="794.6" stroke="#28e1f0" stroke-width="1.9"/>
<text x="442" y="800.6" font-size="18.5" text-anchor="start" font-weight="normal" fill="#000">176</text>
<line x1="401.3" y1="815.55" x2="435.5" y2="815.55" stroke="#1616c8" stroke-width="1.9"/>
<text x="442" y="821.55" font-size="18.5" text-anchor="start" font-weight="normal" fill="#000">215</text>
</svg></body></html>
